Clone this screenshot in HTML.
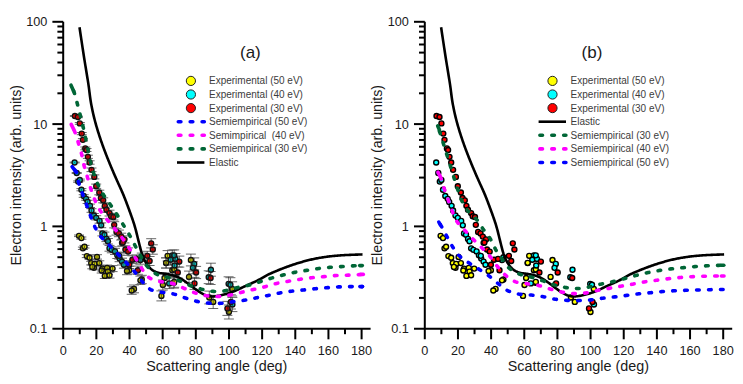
<!DOCTYPE html>
<html><head><meta charset="utf-8"><style>
html,body{margin:0;padding:0;background:#fff;width:743px;height:384px;overflow:hidden}
svg{display:block}
text{font-family:"Liberation Sans",sans-serif;fill:#1a1a1a}
.tk{font-size:12.7px}
.ax{font-size:14px}
.lg{font-size:10px;fill:#3c3c3c}
.pl{font-size:17px}
</style></head><body>
<svg width="743" height="384" viewBox="0 0 743 384">
<line x1="63.2" y1="21.8" x2="63.2" y2="339.3" stroke="#000" stroke-width="2"/>
<line x1="52.4" y1="328.7" x2="370.6" y2="328.7" stroke="#000" stroke-width="2"/>
<line x1="52.4" y1="21.80" x2="63.2" y2="21.80" stroke="#000" stroke-width="2"/>
<line x1="52.4" y1="124.10" x2="63.2" y2="124.10" stroke="#000" stroke-width="2"/>
<line x1="52.4" y1="226.40" x2="63.2" y2="226.40" stroke="#000" stroke-width="2"/>
<line x1="57.4" y1="297.90" x2="63.2" y2="297.90" stroke="#000" stroke-width="2"/>
<line x1="57.4" y1="279.89" x2="63.2" y2="279.89" stroke="#000" stroke-width="2"/>
<line x1="57.4" y1="267.11" x2="63.2" y2="267.11" stroke="#000" stroke-width="2"/>
<line x1="57.4" y1="257.20" x2="63.2" y2="257.20" stroke="#000" stroke-width="2"/>
<line x1="57.4" y1="249.10" x2="63.2" y2="249.10" stroke="#000" stroke-width="2"/>
<line x1="57.4" y1="242.25" x2="63.2" y2="242.25" stroke="#000" stroke-width="2"/>
<line x1="57.4" y1="236.31" x2="63.2" y2="236.31" stroke="#000" stroke-width="2"/>
<line x1="57.4" y1="231.08" x2="63.2" y2="231.08" stroke="#000" stroke-width="2"/>
<line x1="57.4" y1="195.60" x2="63.2" y2="195.60" stroke="#000" stroke-width="2"/>
<line x1="57.4" y1="177.59" x2="63.2" y2="177.59" stroke="#000" stroke-width="2"/>
<line x1="57.4" y1="164.81" x2="63.2" y2="164.81" stroke="#000" stroke-width="2"/>
<line x1="57.4" y1="154.90" x2="63.2" y2="154.90" stroke="#000" stroke-width="2"/>
<line x1="57.4" y1="146.80" x2="63.2" y2="146.80" stroke="#000" stroke-width="2"/>
<line x1="57.4" y1="139.95" x2="63.2" y2="139.95" stroke="#000" stroke-width="2"/>
<line x1="57.4" y1="134.01" x2="63.2" y2="134.01" stroke="#000" stroke-width="2"/>
<line x1="57.4" y1="128.78" x2="63.2" y2="128.78" stroke="#000" stroke-width="2"/>
<line x1="57.4" y1="93.30" x2="63.2" y2="93.30" stroke="#000" stroke-width="2"/>
<line x1="57.4" y1="75.29" x2="63.2" y2="75.29" stroke="#000" stroke-width="2"/>
<line x1="57.4" y1="62.51" x2="63.2" y2="62.51" stroke="#000" stroke-width="2"/>
<line x1="57.4" y1="52.60" x2="63.2" y2="52.60" stroke="#000" stroke-width="2"/>
<line x1="57.4" y1="44.50" x2="63.2" y2="44.50" stroke="#000" stroke-width="2"/>
<line x1="57.4" y1="37.65" x2="63.2" y2="37.65" stroke="#000" stroke-width="2"/>
<line x1="57.4" y1="31.71" x2="63.2" y2="31.71" stroke="#000" stroke-width="2"/>
<line x1="57.4" y1="26.48" x2="63.2" y2="26.48" stroke="#000" stroke-width="2"/>
<line x1="79.78" y1="328.7" x2="79.78" y2="334.2" stroke="#000" stroke-width="2"/>
<line x1="96.36" y1="328.7" x2="96.36" y2="339.3" stroke="#000" stroke-width="2"/>
<line x1="112.93" y1="328.7" x2="112.93" y2="334.2" stroke="#000" stroke-width="2"/>
<line x1="129.51" y1="328.7" x2="129.51" y2="339.3" stroke="#000" stroke-width="2"/>
<line x1="146.09" y1="328.7" x2="146.09" y2="334.2" stroke="#000" stroke-width="2"/>
<line x1="162.67" y1="328.7" x2="162.67" y2="339.3" stroke="#000" stroke-width="2"/>
<line x1="179.24" y1="328.7" x2="179.24" y2="334.2" stroke="#000" stroke-width="2"/>
<line x1="195.82" y1="328.7" x2="195.82" y2="339.3" stroke="#000" stroke-width="2"/>
<line x1="212.40" y1="328.7" x2="212.40" y2="334.2" stroke="#000" stroke-width="2"/>
<line x1="228.98" y1="328.7" x2="228.98" y2="339.3" stroke="#000" stroke-width="2"/>
<line x1="245.56" y1="328.7" x2="245.56" y2="334.2" stroke="#000" stroke-width="2"/>
<line x1="262.13" y1="328.7" x2="262.13" y2="339.3" stroke="#000" stroke-width="2"/>
<line x1="278.71" y1="328.7" x2="278.71" y2="334.2" stroke="#000" stroke-width="2"/>
<line x1="295.29" y1="328.7" x2="295.29" y2="339.3" stroke="#000" stroke-width="2"/>
<line x1="311.87" y1="328.7" x2="311.87" y2="334.2" stroke="#000" stroke-width="2"/>
<line x1="328.44" y1="328.7" x2="328.44" y2="339.3" stroke="#000" stroke-width="2"/>
<line x1="345.02" y1="328.7" x2="345.02" y2="334.2" stroke="#000" stroke-width="2"/>
<line x1="361.60" y1="328.7" x2="361.60" y2="339.3" stroke="#000" stroke-width="2"/>
<text x="47.3" y="26.3" text-anchor="end" class="tk">100</text>
<text x="47.3" y="128.6" text-anchor="end" class="tk">10</text>
<text x="47.3" y="230.9" text-anchor="end" class="tk">1</text>
<text x="47.3" y="333.2" text-anchor="end" class="tk">0.1</text>
<text x="63.2" y="355.4" text-anchor="middle" class="tk">0</text>
<text x="96.4" y="355.4" text-anchor="middle" class="tk">20</text>
<text x="129.5" y="355.4" text-anchor="middle" class="tk">40</text>
<text x="162.7" y="355.4" text-anchor="middle" class="tk">60</text>
<text x="195.8" y="355.4" text-anchor="middle" class="tk">80</text>
<text x="229.0" y="355.4" text-anchor="middle" class="tk">100</text>
<text x="262.1" y="355.4" text-anchor="middle" class="tk">120</text>
<text x="295.3" y="355.4" text-anchor="middle" class="tk">140</text>
<text x="328.4" y="355.4" text-anchor="middle" class="tk">160</text>
<text x="361.6" y="355.4" text-anchor="middle" class="tk">180</text>
<text x="146.2" y="370.6" class="ax" textLength="141.2" lengthAdjust="spacingAndGlyphs">Scattering angle (deg)</text>
<text transform="translate(20.6,265.4) rotate(-90)" x="0" y="0" class="ax" textLength="180.4" lengthAdjust="spacingAndGlyphs">Electron intensity (arb. units)</text>
<line x1="424.8" y1="21.8" x2="424.8" y2="339.3" stroke="#000" stroke-width="2"/>
<line x1="414.0" y1="328.7" x2="732.2" y2="328.7" stroke="#000" stroke-width="2"/>
<line x1="414.0" y1="21.80" x2="424.8" y2="21.80" stroke="#000" stroke-width="2"/>
<line x1="414.0" y1="124.10" x2="424.8" y2="124.10" stroke="#000" stroke-width="2"/>
<line x1="414.0" y1="226.40" x2="424.8" y2="226.40" stroke="#000" stroke-width="2"/>
<line x1="419.0" y1="297.90" x2="424.8" y2="297.90" stroke="#000" stroke-width="2"/>
<line x1="419.0" y1="279.89" x2="424.8" y2="279.89" stroke="#000" stroke-width="2"/>
<line x1="419.0" y1="267.11" x2="424.8" y2="267.11" stroke="#000" stroke-width="2"/>
<line x1="419.0" y1="257.20" x2="424.8" y2="257.20" stroke="#000" stroke-width="2"/>
<line x1="419.0" y1="249.10" x2="424.8" y2="249.10" stroke="#000" stroke-width="2"/>
<line x1="419.0" y1="242.25" x2="424.8" y2="242.25" stroke="#000" stroke-width="2"/>
<line x1="419.0" y1="236.31" x2="424.8" y2="236.31" stroke="#000" stroke-width="2"/>
<line x1="419.0" y1="231.08" x2="424.8" y2="231.08" stroke="#000" stroke-width="2"/>
<line x1="419.0" y1="195.60" x2="424.8" y2="195.60" stroke="#000" stroke-width="2"/>
<line x1="419.0" y1="177.59" x2="424.8" y2="177.59" stroke="#000" stroke-width="2"/>
<line x1="419.0" y1="164.81" x2="424.8" y2="164.81" stroke="#000" stroke-width="2"/>
<line x1="419.0" y1="154.90" x2="424.8" y2="154.90" stroke="#000" stroke-width="2"/>
<line x1="419.0" y1="146.80" x2="424.8" y2="146.80" stroke="#000" stroke-width="2"/>
<line x1="419.0" y1="139.95" x2="424.8" y2="139.95" stroke="#000" stroke-width="2"/>
<line x1="419.0" y1="134.01" x2="424.8" y2="134.01" stroke="#000" stroke-width="2"/>
<line x1="419.0" y1="128.78" x2="424.8" y2="128.78" stroke="#000" stroke-width="2"/>
<line x1="419.0" y1="93.30" x2="424.8" y2="93.30" stroke="#000" stroke-width="2"/>
<line x1="419.0" y1="75.29" x2="424.8" y2="75.29" stroke="#000" stroke-width="2"/>
<line x1="419.0" y1="62.51" x2="424.8" y2="62.51" stroke="#000" stroke-width="2"/>
<line x1="419.0" y1="52.60" x2="424.8" y2="52.60" stroke="#000" stroke-width="2"/>
<line x1="419.0" y1="44.50" x2="424.8" y2="44.50" stroke="#000" stroke-width="2"/>
<line x1="419.0" y1="37.65" x2="424.8" y2="37.65" stroke="#000" stroke-width="2"/>
<line x1="419.0" y1="31.71" x2="424.8" y2="31.71" stroke="#000" stroke-width="2"/>
<line x1="419.0" y1="26.48" x2="424.8" y2="26.48" stroke="#000" stroke-width="2"/>
<line x1="441.38" y1="328.7" x2="441.38" y2="334.2" stroke="#000" stroke-width="2"/>
<line x1="457.96" y1="328.7" x2="457.96" y2="339.3" stroke="#000" stroke-width="2"/>
<line x1="474.53" y1="328.7" x2="474.53" y2="334.2" stroke="#000" stroke-width="2"/>
<line x1="491.11" y1="328.7" x2="491.11" y2="339.3" stroke="#000" stroke-width="2"/>
<line x1="507.69" y1="328.7" x2="507.69" y2="334.2" stroke="#000" stroke-width="2"/>
<line x1="524.27" y1="328.7" x2="524.27" y2="339.3" stroke="#000" stroke-width="2"/>
<line x1="540.84" y1="328.7" x2="540.84" y2="334.2" stroke="#000" stroke-width="2"/>
<line x1="557.42" y1="328.7" x2="557.42" y2="339.3" stroke="#000" stroke-width="2"/>
<line x1="574.00" y1="328.7" x2="574.00" y2="334.2" stroke="#000" stroke-width="2"/>
<line x1="590.58" y1="328.7" x2="590.58" y2="339.3" stroke="#000" stroke-width="2"/>
<line x1="607.16" y1="328.7" x2="607.16" y2="334.2" stroke="#000" stroke-width="2"/>
<line x1="623.73" y1="328.7" x2="623.73" y2="339.3" stroke="#000" stroke-width="2"/>
<line x1="640.31" y1="328.7" x2="640.31" y2="334.2" stroke="#000" stroke-width="2"/>
<line x1="656.89" y1="328.7" x2="656.89" y2="339.3" stroke="#000" stroke-width="2"/>
<line x1="673.47" y1="328.7" x2="673.47" y2="334.2" stroke="#000" stroke-width="2"/>
<line x1="690.04" y1="328.7" x2="690.04" y2="339.3" stroke="#000" stroke-width="2"/>
<line x1="706.62" y1="328.7" x2="706.62" y2="334.2" stroke="#000" stroke-width="2"/>
<line x1="723.20" y1="328.7" x2="723.20" y2="339.3" stroke="#000" stroke-width="2"/>
<text x="408.90000000000003" y="26.3" text-anchor="end" class="tk">100</text>
<text x="408.90000000000003" y="128.6" text-anchor="end" class="tk">10</text>
<text x="408.90000000000003" y="230.9" text-anchor="end" class="tk">1</text>
<text x="408.90000000000003" y="333.2" text-anchor="end" class="tk">0.1</text>
<text x="424.8" y="355.4" text-anchor="middle" class="tk">0</text>
<text x="458.0" y="355.4" text-anchor="middle" class="tk">20</text>
<text x="491.1" y="355.4" text-anchor="middle" class="tk">40</text>
<text x="524.3" y="355.4" text-anchor="middle" class="tk">60</text>
<text x="557.4" y="355.4" text-anchor="middle" class="tk">80</text>
<text x="590.6" y="355.4" text-anchor="middle" class="tk">100</text>
<text x="623.7" y="355.4" text-anchor="middle" class="tk">120</text>
<text x="656.9" y="355.4" text-anchor="middle" class="tk">140</text>
<text x="690.0" y="355.4" text-anchor="middle" class="tk">160</text>
<text x="723.2" y="355.4" text-anchor="middle" class="tk">180</text>
<text x="507.8" y="370.6" class="ax" textLength="141.2" lengthAdjust="spacingAndGlyphs">Scattering angle (deg)</text>
<text transform="translate(382.20000000000005,265.4) rotate(-90)" x="0" y="0" class="ax" textLength="180.4" lengthAdjust="spacingAndGlyphs">Electron intensity (arb. units)</text>
<text x="240" y="57.5" class="pl">(a)</text>
<text x="581.6" y="57.5" class="pl">(b)</text>
<circle cx="190.9" cy="80.9" r="4.6" fill="#ffff00" stroke="#222" stroke-width="1"/>
<text x="209" y="84.4" class="lg">Experimental (50 eV)</text>
<circle cx="190.9" cy="94.5" r="4.6" fill="#00ffff" stroke="#222" stroke-width="1"/>
<text x="209" y="98.0" class="lg">Experimental (40 eV)</text>
<circle cx="190.9" cy="108.1" r="4.6" fill="#ff0000" stroke="#222" stroke-width="1"/>
<text x="209" y="111.6" class="lg">Experimental (30 eV)</text>
<path d="M178.3,121.7H204.3" stroke="#0000ff" stroke-width="3.6" stroke-dasharray="2.6 9.3" stroke-linecap="round"/>
<text x="209" y="125.2" class="lg">Semiempirical (50 eV)</text>
<path d="M178.3,135.3H204.3" stroke="#ff00ff" stroke-width="3.6" stroke-dasharray="2.6 9.3" stroke-linecap="round"/>
<text x="209" y="138.8" class="lg">Semimpirical&#160; (40 eV)</text>
<path d="M178.3,148.9H204.3" stroke="#006636" stroke-width="3.6" stroke-dasharray="2.6 9.3" stroke-linecap="round"/>
<text x="209" y="152.4" class="lg">Semiempirical (30 eV)</text>
<line x1="177" y1="162.5" x2="204.4" y2="162.5" stroke="#000" stroke-width="2.6"/>
<text x="209" y="166.0" class="lg">Elastic</text>
<circle cx="552.5" cy="80.9" r="4.6" fill="#ffff00" stroke="#222" stroke-width="1"/>
<text x="570.6" y="84.4" class="lg">Experimental (50 eV)</text>
<circle cx="552.5" cy="94.5" r="4.6" fill="#00ffff" stroke="#222" stroke-width="1"/>
<text x="570.6" y="98.0" class="lg">Experimental (40 eV)</text>
<circle cx="552.5" cy="108.1" r="4.6" fill="#ff0000" stroke="#222" stroke-width="1"/>
<text x="570.6" y="111.6" class="lg">Experimental (30 eV)</text>
<line x1="538.6" y1="121.7" x2="566.0" y2="121.7" stroke="#000" stroke-width="2.6"/>
<text x="570.6" y="125.2" class="lg">Elastic</text>
<path d="M539.9000000000001,135.3H565.9000000000001" stroke="#006636" stroke-width="3.6" stroke-dasharray="2.6 9.3" stroke-linecap="round"/>
<text x="570.6" y="138.8" class="lg">Semiempirical (30 eV)</text>
<path d="M539.9000000000001,148.9H565.9000000000001" stroke="#ff00ff" stroke-width="3.6" stroke-dasharray="2.6 9.3" stroke-linecap="round"/>
<text x="570.6" y="152.4" class="lg">Semiempirical (40 eV)</text>
<path d="M539.9000000000001,162.5H565.9000000000001" stroke="#0000ff" stroke-width="3.6" stroke-dasharray="2.6 9.3" stroke-linecap="round"/>
<text x="570.6" y="166.0" class="lg">Semiempirical (50 eV)</text>
<g stroke="#444" stroke-width="1" fill="none" opacity="0.8"><path d="M74.0,235.0H84.0M74.0,236.6H84.0" /><path d="M76.4,237.0H86.4M76.4,239.2H86.4" /><path d="M77.9,247.1H87.9M77.9,249.5H87.9" /><path d="M79.5,245.4H89.5M79.5,248.0H89.5" /><path d="M81.8,254.6H91.8M81.8,257.6H91.8" /><path d="M84.6,256.0H94.6M84.6,259.4H94.6" /><path d="M86.2,261.3H96.2M86.2,264.9H96.2" /><path d="M89.6,261.9H99.6M89.6,265.9H99.6" /><path d="M92.0,254.7H102.0M92.0,259.1H102.0" /><path d="M94.3,260.8H104.3M94.3,265.4H104.3" /><path d="M88.9,265.8H98.9M88.9,269.8H98.9" /><path d="M97.4,266.1H107.4M97.4,271.1H107.4" /><path d="M102.1,265.1H112.1M102.1,270.5H112.1" /><path d="M107.6,265.6H117.6M107.6,271.6H117.6" /><path d="M87.3,265.0H97.3M87.3,268.8H97.3" /><path d="M96.7,268.0H106.7M96.7,273.0H106.7" /><path d="M102.9,268.8H112.9M102.9,274.4H112.9" /><path d="M99.8,273.3H109.8M99.8,278.5H109.8" /><path d="M104.5,272.3H114.5M104.5,278.1H114.5" /><path d="M124.3,266.4H134.3M124.3,274.0H134.3" /><path d="M122.0,267.3H132.0M122.0,274.7H132.0" /><path d="M136.8,275.3H146.8M136.8,283.7H146.8" /><path d="M135.4,276.1H145.4M135.4,284.5H145.4" /><path d="M129.0,285.0H139.0M129.0,292.8H139.0" /><path d="M126.7,286.7H136.7M126.7,294.3H136.7" /><path d="M156.4,290.9H166.4M156.4,300.9H166.4" /><path d="M159.5,272.9H169.5M159.5,283.1H169.5" /><path d="M157.9,280.0H167.9M157.9,290.0H167.9" /><path d="M167.3,264.9H177.3M167.3,275.5H177.3" /><path d="M161.1,258.0H171.1M161.1,268.2H171.1" /><path d="M162.6,250.6H172.6M162.6,261.0H172.6" /><path d="M161.1,257.7H171.1M161.1,267.9H171.1" /><path d="M168.9,277.3H178.9M168.9,288.1H178.9" /><path d="M185.9,254.1H195.9M185.9,265.9H195.9" /><path d="M184.0,271.1H194.0M184.0,282.7H194.0" /><path d="M169.2,264.0H179.2M169.2,274.8H179.2" /><path d="M169.2,276.5H179.2M169.2,287.3H179.2" /><path d="M204.3,291.1H214.3M204.3,303.9H214.3" /><path d="M208.2,295.3H218.2M208.2,308.5H218.2" /><path d="M223.9,305.0H233.9M223.9,319.0H233.9" /><path d="M227.1,281.8H237.1M227.1,296.0H237.1" /><path d="M69.6,162.1H79.6M69.6,162.9H79.6" /><path d="M71.7,172.5H81.7M71.7,173.5H81.7" /><path d="M73.2,180.9H83.2M73.2,182.3H83.2" /><path d="M74.8,179.1H84.8M74.8,180.9H84.8" /><path d="M76.4,188.6H86.4M76.4,190.8H86.4" /><path d="M78.7,194.7H88.7M78.7,197.3H88.7" /><path d="M81.1,197.3H91.1M81.1,200.2H91.1" /><path d="M82.6,200.3H92.6M82.6,203.5H92.6" /><path d="M85.0,204.1H95.0M85.0,207.5H95.0" /><path d="M86.5,208.7H96.5M86.5,212.3H96.5" /><path d="M88.9,213.5H98.9M88.9,217.5H98.9" /><path d="M91.2,215.7H101.2M91.2,219.9H101.2" /><path d="M94.6,218.6H104.6M94.6,223.2H104.6" /><path d="M96.2,222.9H106.2M96.2,227.7H106.2" /><path d="M97.4,230.9H107.4M97.4,235.9H107.4" /><path d="M99.4,232.1H109.4M99.4,237.3H109.4" /><path d="M101.4,236.2H111.4M101.4,241.6H111.4" /><path d="M102.9,238.5H112.9M102.9,244.0H112.9" /><path d="M104.5,245.4H114.5M104.5,251.2H114.5" /><path d="M106.8,246.8H116.8M106.8,252.8H116.8" /><path d="M110.0,248.3H120.0M110.0,254.5H120.0" /><path d="M112.3,252.1H122.3M112.3,258.5H122.3" /><path d="M114.6,255.1H124.6M114.6,261.7H124.6" /><path d="M117.0,258.2H127.0M117.0,265.0H127.0" /><path d="M114.2,252.5H124.2M114.2,259.1H124.2" /><path d="M118.9,261.2H128.9M118.9,268.2H128.9" /><path d="M136.8,253.1H146.8M136.8,261.5H146.8" /><path d="M135.4,255.8H145.4M135.4,264.2H145.4" /><path d="M167.3,250.0H177.3M167.3,260.6H177.3" /><path d="M165.7,254.4H175.7M165.7,265.0H175.7" /><path d="M170.4,253.5H180.4M170.4,264.3H180.4" /><path d="M169.2,249.9H179.2M169.2,260.7H179.2" /><path d="M169.6,260.1H179.6M169.6,270.9H179.6" /><path d="M164.2,278.2H174.2M164.2,288.6H174.2" /><path d="M189.2,257.9H199.2M189.2,269.9H199.2" /><path d="M187.9,261.8H197.9M187.9,273.8H197.9" /><path d="M205.9,263.2H215.9M205.9,276.2H215.9" /><path d="M203.7,270.8H213.7M203.7,283.6H213.7" /><path d="M223.6,276.8H233.6M223.6,290.8H233.6" /><path d="M225.4,277.7H235.4M225.4,291.7H235.4" /><path d="M227.4,297.4H237.4M227.4,311.6H237.4" /><path d="M69.9,115.6H79.9M69.9,116.4H79.9" /><path d="M72.9,116.3H82.9M72.9,117.7H82.9" /><path d="M74.8,122.5H84.8M74.8,124.3H84.8" /><path d="M76.7,132.5H86.7M76.7,134.7H86.7" /><path d="M77.9,138.6H87.9M77.9,141.0H87.9" /><path d="M80.3,147.0H90.3M80.3,149.8H90.3" /><path d="M81.5,148.5H91.5M81.5,151.5H91.5" /><path d="M82.9,155.2H92.9M82.9,158.4H92.9" /><path d="M84.6,160.8H94.6M84.6,164.2H94.6" /><path d="M86.5,168.0H96.5M86.5,171.6H96.5" /><path d="M89.3,174.9H99.3M89.3,178.9H99.3" /><path d="M91.2,184.1H101.2M91.2,188.4H101.2" /><path d="M94.3,190.2H104.3M94.3,194.8H104.3" /><path d="M95.9,195.6H105.9M95.9,200.4H105.9" /><path d="M98.2,197.8H108.2M98.2,202.8H108.2" /><path d="M99.8,203.2H109.8M99.8,208.4H109.8" /><path d="M101.4,207.0H111.4M101.4,212.4H111.4" /><path d="M104.5,210.2H114.5M104.5,216.0H114.5" /><path d="M106.1,213.3H116.1M106.1,219.2H116.1" /><path d="M108.4,214.0H118.4M108.4,220.0H118.4" /><path d="M109.2,221.7H119.2M109.2,227.9H119.2" /><path d="M111.5,228.7H121.5M111.5,235.1H121.5" /><path d="M113.9,230.1H123.9M113.9,236.7H123.9" /><path d="M116.2,233.2H126.2M116.2,240.0H126.2" /><path d="M117.0,239.4H127.0M117.0,246.2H127.0" /><path d="M119.4,235.9H129.4M119.4,242.9H129.4" /><path d="M117.8,239.0H127.8M117.8,246.0H127.8" /><path d="M120.4,245.9H130.4M120.4,253.1H130.4" /><path d="M123.1,247.9H133.1M123.1,255.3H133.1" /><path d="M127.4,255.8H137.4M127.4,263.6H137.4" /><path d="M131.4,254.9H141.4M131.4,262.9H141.4" /><path d="M124.3,260.9H134.3M124.3,268.5H134.3" /><path d="M132.9,266.1H142.9M132.9,274.3H142.9" /><path d="M146.2,238.7H156.2M146.2,247.9H156.2" /><path d="M147.8,244.8H157.8M147.8,254.2H157.8" /><path d="M142.3,251.3H152.3M142.3,260.3H152.3" /><path d="M144.6,256.5H154.6M144.6,265.5H154.6" /><path d="M174.3,256.1H184.3M174.3,267.1H184.3" /><path d="M172.8,267.0H182.8M172.8,278.0H182.8" /><path d="M191.1,266.4H201.1M191.1,278.6H201.1" /><path d="M205.6,271.5H215.6M205.6,284.5H215.6" /><path d="M189.5,277.4H199.5M189.5,289.4H199.5" /><path d="M225.9,294.8H235.9M225.9,309.0H235.9" /><path d="M222.4,301.4H232.4M222.4,315.4H232.4" /></g>
<circle cx="79.0" cy="235.8" r="2.5" fill="#d4d400" stroke="#111" stroke-width="1.35"/>
<circle cx="81.4" cy="238.1" r="2.5" fill="#d4d400" stroke="#111" stroke-width="1.35"/>
<circle cx="82.9" cy="248.3" r="2.5" fill="#d4d400" stroke="#111" stroke-width="1.35"/>
<circle cx="84.5" cy="246.7" r="2.5" fill="#d4d400" stroke="#111" stroke-width="1.35"/>
<circle cx="86.8" cy="256.1" r="2.5" fill="#d4d400" stroke="#111" stroke-width="1.35"/>
<circle cx="89.6" cy="257.7" r="2.5" fill="#d4d400" stroke="#111" stroke-width="1.35"/>
<circle cx="91.2" cy="263.1" r="2.5" fill="#d4d400" stroke="#111" stroke-width="1.35"/>
<circle cx="94.6" cy="263.9" r="2.5" fill="#d4d400" stroke="#111" stroke-width="1.35"/>
<circle cx="97.0" cy="256.9" r="2.5" fill="#d4d400" stroke="#111" stroke-width="1.35"/>
<circle cx="99.3" cy="263.1" r="2.5" fill="#d4d400" stroke="#111" stroke-width="1.35"/>
<circle cx="93.9" cy="267.8" r="2.5" fill="#d4d400" stroke="#111" stroke-width="1.35"/>
<circle cx="102.4" cy="268.6" r="2.5" fill="#d4d400" stroke="#111" stroke-width="1.35"/>
<circle cx="107.1" cy="267.8" r="2.5" fill="#d4d400" stroke="#111" stroke-width="1.35"/>
<circle cx="112.6" cy="268.6" r="2.5" fill="#d4d400" stroke="#111" stroke-width="1.35"/>
<circle cx="92.3" cy="266.9" r="2.5" fill="#d4d400" stroke="#111" stroke-width="1.35"/>
<circle cx="101.7" cy="270.5" r="2.5" fill="#d4d400" stroke="#111" stroke-width="1.35"/>
<circle cx="107.9" cy="271.6" r="2.5" fill="#d4d400" stroke="#111" stroke-width="1.35"/>
<circle cx="104.8" cy="275.9" r="2.5" fill="#d4d400" stroke="#111" stroke-width="1.35"/>
<circle cx="109.5" cy="275.2" r="2.5" fill="#d4d400" stroke="#111" stroke-width="1.35"/>
<circle cx="129.3" cy="270.2" r="2.5" fill="#d4d400" stroke="#111" stroke-width="1.35"/>
<circle cx="127.0" cy="271.0" r="2.5" fill="#d4d400" stroke="#111" stroke-width="1.35"/>
<circle cx="141.8" cy="279.5" r="2.5" fill="#d4d400" stroke="#111" stroke-width="1.35"/>
<circle cx="140.4" cy="280.3" r="2.5" fill="#d4d400" stroke="#111" stroke-width="1.35"/>
<circle cx="134.0" cy="288.9" r="2.5" fill="#d4d400" stroke="#111" stroke-width="1.35"/>
<circle cx="131.7" cy="290.5" r="2.5" fill="#d4d400" stroke="#111" stroke-width="1.35"/>
<circle cx="161.4" cy="295.9" r="2.5" fill="#d4d400" stroke="#111" stroke-width="1.35"/>
<circle cx="164.5" cy="278.0" r="2.5" fill="#d4d400" stroke="#111" stroke-width="1.35"/>
<circle cx="162.9" cy="285.0" r="2.5" fill="#d4d400" stroke="#111" stroke-width="1.35"/>
<circle cx="172.3" cy="270.2" r="2.5" fill="#d4d400" stroke="#111" stroke-width="1.35"/>
<circle cx="166.1" cy="263.1" r="2.5" fill="#d4d400" stroke="#111" stroke-width="1.35"/>
<circle cx="167.6" cy="255.8" r="2.5" fill="#d4d400" stroke="#111" stroke-width="1.35"/>
<circle cx="166.1" cy="262.8" r="2.5" fill="#d4d400" stroke="#111" stroke-width="1.35"/>
<circle cx="173.9" cy="282.7" r="2.5" fill="#d4d400" stroke="#111" stroke-width="1.35"/>
<circle cx="190.9" cy="260.0" r="2.5" fill="#d4d400" stroke="#111" stroke-width="1.35"/>
<circle cx="189.0" cy="276.9" r="2.5" fill="#d4d400" stroke="#111" stroke-width="1.35"/>
<circle cx="174.2" cy="269.4" r="2.5" fill="#d4d400" stroke="#111" stroke-width="1.35"/>
<circle cx="174.2" cy="281.9" r="2.5" fill="#d4d400" stroke="#111" stroke-width="1.35"/>
<circle cx="209.3" cy="297.5" r="2.5" fill="#d4d400" stroke="#111" stroke-width="1.35"/>
<circle cx="213.2" cy="301.9" r="2.5" fill="#d4d400" stroke="#111" stroke-width="1.35"/>
<circle cx="228.9" cy="312.0" r="2.5" fill="#d4d400" stroke="#111" stroke-width="1.35"/>
<circle cx="232.1" cy="288.9" r="2.5" fill="#d4d400" stroke="#111" stroke-width="1.35"/>
<circle cx="74.6" cy="162.5" r="2.5" fill="#00c4c4" stroke="#111" stroke-width="1.35"/>
<circle cx="76.7" cy="173.0" r="2.5" fill="#00c4c4" stroke="#111" stroke-width="1.35"/>
<circle cx="78.2" cy="181.6" r="2.5" fill="#00c4c4" stroke="#111" stroke-width="1.35"/>
<circle cx="79.8" cy="180.0" r="2.5" fill="#00c4c4" stroke="#111" stroke-width="1.35"/>
<circle cx="81.4" cy="189.7" r="2.5" fill="#00c4c4" stroke="#111" stroke-width="1.35"/>
<circle cx="83.7" cy="196.0" r="2.5" fill="#00c4c4" stroke="#111" stroke-width="1.35"/>
<circle cx="86.1" cy="198.8" r="2.5" fill="#00c4c4" stroke="#111" stroke-width="1.35"/>
<circle cx="87.6" cy="201.9" r="2.5" fill="#00c4c4" stroke="#111" stroke-width="1.35"/>
<circle cx="90.0" cy="205.8" r="2.5" fill="#00c4c4" stroke="#111" stroke-width="1.35"/>
<circle cx="91.5" cy="210.5" r="2.5" fill="#00c4c4" stroke="#111" stroke-width="1.35"/>
<circle cx="93.9" cy="215.5" r="2.5" fill="#00c4c4" stroke="#111" stroke-width="1.35"/>
<circle cx="96.2" cy="217.8" r="2.5" fill="#00c4c4" stroke="#111" stroke-width="1.35"/>
<circle cx="99.6" cy="220.9" r="2.5" fill="#00c4c4" stroke="#111" stroke-width="1.35"/>
<circle cx="101.2" cy="225.3" r="2.5" fill="#00c4c4" stroke="#111" stroke-width="1.35"/>
<circle cx="102.4" cy="233.4" r="2.5" fill="#00c4c4" stroke="#111" stroke-width="1.35"/>
<circle cx="104.4" cy="234.7" r="2.5" fill="#00c4c4" stroke="#111" stroke-width="1.35"/>
<circle cx="106.4" cy="238.9" r="2.5" fill="#00c4c4" stroke="#111" stroke-width="1.35"/>
<circle cx="107.9" cy="241.2" r="2.5" fill="#00c4c4" stroke="#111" stroke-width="1.35"/>
<circle cx="109.5" cy="248.3" r="2.5" fill="#00c4c4" stroke="#111" stroke-width="1.35"/>
<circle cx="111.8" cy="249.8" r="2.5" fill="#00c4c4" stroke="#111" stroke-width="1.35"/>
<circle cx="115.0" cy="251.4" r="2.5" fill="#00c4c4" stroke="#111" stroke-width="1.35"/>
<circle cx="117.3" cy="255.3" r="2.5" fill="#00c4c4" stroke="#111" stroke-width="1.35"/>
<circle cx="119.6" cy="258.4" r="2.5" fill="#00c4c4" stroke="#111" stroke-width="1.35"/>
<circle cx="122.0" cy="261.6" r="2.5" fill="#00c4c4" stroke="#111" stroke-width="1.35"/>
<circle cx="119.2" cy="255.8" r="2.5" fill="#00c4c4" stroke="#111" stroke-width="1.35"/>
<circle cx="123.9" cy="264.7" r="2.5" fill="#00c4c4" stroke="#111" stroke-width="1.35"/>
<circle cx="141.8" cy="257.3" r="2.5" fill="#00c4c4" stroke="#111" stroke-width="1.35"/>
<circle cx="140.4" cy="260.0" r="2.5" fill="#00c4c4" stroke="#111" stroke-width="1.35"/>
<circle cx="172.3" cy="255.3" r="2.5" fill="#00c4c4" stroke="#111" stroke-width="1.35"/>
<circle cx="170.7" cy="259.7" r="2.5" fill="#00c4c4" stroke="#111" stroke-width="1.35"/>
<circle cx="175.4" cy="258.9" r="2.5" fill="#00c4c4" stroke="#111" stroke-width="1.35"/>
<circle cx="174.2" cy="255.3" r="2.5" fill="#00c4c4" stroke="#111" stroke-width="1.35"/>
<circle cx="174.6" cy="265.5" r="2.5" fill="#00c4c4" stroke="#111" stroke-width="1.35"/>
<circle cx="169.2" cy="283.4" r="2.5" fill="#00c4c4" stroke="#111" stroke-width="1.35"/>
<circle cx="194.2" cy="263.9" r="2.5" fill="#00c4c4" stroke="#111" stroke-width="1.35"/>
<circle cx="192.9" cy="267.8" r="2.5" fill="#00c4c4" stroke="#111" stroke-width="1.35"/>
<circle cx="210.9" cy="269.7" r="2.5" fill="#00c4c4" stroke="#111" stroke-width="1.35"/>
<circle cx="208.7" cy="277.2" r="2.5" fill="#00c4c4" stroke="#111" stroke-width="1.35"/>
<circle cx="228.6" cy="283.8" r="2.5" fill="#00c4c4" stroke="#111" stroke-width="1.35"/>
<circle cx="230.4" cy="284.7" r="2.5" fill="#00c4c4" stroke="#111" stroke-width="1.35"/>
<circle cx="232.4" cy="304.5" r="2.5" fill="#00c4c4" stroke="#111" stroke-width="1.35"/>
<circle cx="74.9" cy="116.0" r="2.5" fill="#e60000" stroke="#111" stroke-width="1.35"/>
<circle cx="77.9" cy="117.0" r="2.5" fill="#e60000" stroke="#111" stroke-width="1.35"/>
<circle cx="79.8" cy="123.4" r="2.5" fill="#e60000" stroke="#111" stroke-width="1.35"/>
<circle cx="81.7" cy="133.6" r="2.5" fill="#e60000" stroke="#111" stroke-width="1.35"/>
<circle cx="82.9" cy="139.8" r="2.5" fill="#e60000" stroke="#111" stroke-width="1.35"/>
<circle cx="85.3" cy="148.4" r="2.5" fill="#e60000" stroke="#111" stroke-width="1.35"/>
<circle cx="86.5" cy="150.0" r="2.5" fill="#e60000" stroke="#111" stroke-width="1.35"/>
<circle cx="87.9" cy="156.8" r="2.5" fill="#e60000" stroke="#111" stroke-width="1.35"/>
<circle cx="89.6" cy="162.5" r="2.5" fill="#e60000" stroke="#111" stroke-width="1.35"/>
<circle cx="91.5" cy="169.8" r="2.5" fill="#e60000" stroke="#111" stroke-width="1.35"/>
<circle cx="94.3" cy="176.9" r="2.5" fill="#e60000" stroke="#111" stroke-width="1.35"/>
<circle cx="96.2" cy="186.2" r="2.5" fill="#e60000" stroke="#111" stroke-width="1.35"/>
<circle cx="99.3" cy="192.5" r="2.5" fill="#e60000" stroke="#111" stroke-width="1.35"/>
<circle cx="100.9" cy="198.0" r="2.5" fill="#e60000" stroke="#111" stroke-width="1.35"/>
<circle cx="103.2" cy="200.3" r="2.5" fill="#e60000" stroke="#111" stroke-width="1.35"/>
<circle cx="104.8" cy="205.8" r="2.5" fill="#e60000" stroke="#111" stroke-width="1.35"/>
<circle cx="106.4" cy="209.7" r="2.5" fill="#e60000" stroke="#111" stroke-width="1.35"/>
<circle cx="109.5" cy="213.1" r="2.5" fill="#e60000" stroke="#111" stroke-width="1.35"/>
<circle cx="111.1" cy="216.2" r="2.5" fill="#e60000" stroke="#111" stroke-width="1.35"/>
<circle cx="113.4" cy="217.0" r="2.5" fill="#e60000" stroke="#111" stroke-width="1.35"/>
<circle cx="114.2" cy="224.8" r="2.5" fill="#e60000" stroke="#111" stroke-width="1.35"/>
<circle cx="116.5" cy="231.9" r="2.5" fill="#e60000" stroke="#111" stroke-width="1.35"/>
<circle cx="118.9" cy="233.4" r="2.5" fill="#e60000" stroke="#111" stroke-width="1.35"/>
<circle cx="121.2" cy="236.6" r="2.5" fill="#e60000" stroke="#111" stroke-width="1.35"/>
<circle cx="122.0" cy="242.8" r="2.5" fill="#e60000" stroke="#111" stroke-width="1.35"/>
<circle cx="124.4" cy="239.4" r="2.5" fill="#e60000" stroke="#111" stroke-width="1.35"/>
<circle cx="122.8" cy="242.5" r="2.5" fill="#e60000" stroke="#111" stroke-width="1.35"/>
<circle cx="125.4" cy="249.5" r="2.5" fill="#e60000" stroke="#111" stroke-width="1.35"/>
<circle cx="128.1" cy="251.6" r="2.5" fill="#e60000" stroke="#111" stroke-width="1.35"/>
<circle cx="132.4" cy="259.7" r="2.5" fill="#e60000" stroke="#111" stroke-width="1.35"/>
<circle cx="136.4" cy="258.9" r="2.5" fill="#e60000" stroke="#111" stroke-width="1.35"/>
<circle cx="129.3" cy="264.7" r="2.5" fill="#e60000" stroke="#111" stroke-width="1.35"/>
<circle cx="137.9" cy="270.2" r="2.5" fill="#e60000" stroke="#111" stroke-width="1.35"/>
<circle cx="151.2" cy="243.3" r="2.5" fill="#e60000" stroke="#111" stroke-width="1.35"/>
<circle cx="152.8" cy="249.5" r="2.5" fill="#e60000" stroke="#111" stroke-width="1.35"/>
<circle cx="147.3" cy="255.8" r="2.5" fill="#e60000" stroke="#111" stroke-width="1.35"/>
<circle cx="149.6" cy="261.0" r="2.5" fill="#e60000" stroke="#111" stroke-width="1.35"/>
<circle cx="179.3" cy="261.6" r="2.5" fill="#e60000" stroke="#111" stroke-width="1.35"/>
<circle cx="177.8" cy="272.5" r="2.5" fill="#e60000" stroke="#111" stroke-width="1.35"/>
<circle cx="196.1" cy="272.5" r="2.5" fill="#e60000" stroke="#111" stroke-width="1.35"/>
<circle cx="210.6" cy="278.0" r="2.5" fill="#e60000" stroke="#111" stroke-width="1.35"/>
<circle cx="194.5" cy="283.4" r="2.5" fill="#e60000" stroke="#111" stroke-width="1.35"/>
<circle cx="230.9" cy="301.9" r="2.5" fill="#e60000" stroke="#111" stroke-width="1.35"/>
<circle cx="227.4" cy="308.4" r="2.5" fill="#e60000" stroke="#111" stroke-width="1.35"/>
<g stroke="#222" stroke-width="0.9" fill="none" opacity="0.75"><path d="M79.0,235.0V236.6" /><path d="M81.4,237.0V239.2" /><path d="M82.9,247.1V249.5" /><path d="M84.5,245.4V248.0" /><path d="M86.8,254.6V257.6" /><path d="M89.6,256.0V259.4" /><path d="M91.2,261.3V264.9" /><path d="M94.6,261.9V265.9" /><path d="M97.0,254.7V259.1" /><path d="M99.3,260.8V265.4" /><path d="M93.9,265.8V269.8" /><path d="M102.4,266.1V271.1" /><path d="M107.1,265.1V270.5" /><path d="M112.6,265.6V271.6" /><path d="M92.3,265.0V268.8" /><path d="M101.7,268.0V273.0" /><path d="M107.9,268.8V274.4" /><path d="M104.8,273.3V278.5" /><path d="M109.5,272.3V278.1" /><path d="M129.3,266.4V274.0" /><path d="M127.0,267.3V274.7" /><path d="M141.8,275.3V283.7" /><path d="M140.4,276.1V284.5" /><path d="M134.0,285.0V292.8" /><path d="M131.7,286.7V294.3" /><path d="M161.4,290.9V300.9" /><path d="M164.5,272.9V283.1" /><path d="M162.9,280.0V290.0" /><path d="M172.3,264.9V275.5" /><path d="M166.1,258.0V268.2" /><path d="M167.6,250.6V261.0" /><path d="M166.1,257.7V267.9" /><path d="M173.9,277.3V288.1" /><path d="M190.9,254.1V265.9" /><path d="M189.0,271.1V282.7" /><path d="M174.2,264.0V274.8" /><path d="M174.2,276.5V287.3" /><path d="M209.3,291.1V303.9" /><path d="M213.2,295.3V308.5" /><path d="M228.9,305.0V319.0" /><path d="M232.1,281.8V296.0" /><path d="M74.6,162.1V162.9" /><path d="M76.7,172.5V173.5" /><path d="M78.2,180.9V182.3" /><path d="M79.8,179.1V180.9" /><path d="M81.4,188.6V190.8" /><path d="M83.7,194.7V197.3" /><path d="M86.1,197.3V200.2" /><path d="M87.6,200.3V203.5" /><path d="M90.0,204.1V207.5" /><path d="M91.5,208.7V212.3" /><path d="M93.9,213.5V217.5" /><path d="M96.2,215.7V219.9" /><path d="M99.6,218.6V223.2" /><path d="M101.2,222.9V227.7" /><path d="M102.4,230.9V235.9" /><path d="M104.4,232.1V237.3" /><path d="M106.4,236.2V241.6" /><path d="M107.9,238.5V244.0" /><path d="M109.5,245.4V251.2" /><path d="M111.8,246.8V252.8" /><path d="M115.0,248.3V254.5" /><path d="M117.3,252.1V258.5" /><path d="M119.6,255.1V261.7" /><path d="M122.0,258.2V265.0" /><path d="M119.2,252.5V259.1" /><path d="M123.9,261.2V268.2" /><path d="M141.8,253.1V261.5" /><path d="M140.4,255.8V264.2" /><path d="M172.3,250.0V260.6" /><path d="M170.7,254.4V265.0" /><path d="M175.4,253.5V264.3" /><path d="M174.2,249.9V260.7" /><path d="M174.6,260.1V270.9" /><path d="M169.2,278.2V288.6" /><path d="M194.2,257.9V269.9" /><path d="M192.9,261.8V273.8" /><path d="M210.9,263.2V276.2" /><path d="M208.7,270.8V283.6" /><path d="M228.6,276.8V290.8" /><path d="M230.4,277.7V291.7" /><path d="M232.4,297.4V311.6" /><path d="M74.9,115.6V116.4" /><path d="M77.9,116.3V117.7" /><path d="M79.8,122.5V124.3" /><path d="M81.7,132.5V134.7" /><path d="M82.9,138.6V141.0" /><path d="M85.3,147.0V149.8" /><path d="M86.5,148.5V151.5" /><path d="M87.9,155.2V158.4" /><path d="M89.6,160.8V164.2" /><path d="M91.5,168.0V171.6" /><path d="M94.3,174.9V178.9" /><path d="M96.2,184.1V188.4" /><path d="M99.3,190.2V194.8" /><path d="M100.9,195.6V200.4" /><path d="M103.2,197.8V202.8" /><path d="M104.8,203.2V208.4" /><path d="M106.4,207.0V212.4" /><path d="M109.5,210.2V216.0" /><path d="M111.1,213.3V219.2" /><path d="M113.4,214.0V220.0" /><path d="M114.2,221.7V227.9" /><path d="M116.5,228.7V235.1" /><path d="M118.9,230.1V236.7" /><path d="M121.2,233.2V240.0" /><path d="M122.0,239.4V246.2" /><path d="M124.4,235.9V242.9" /><path d="M122.8,239.0V246.0" /><path d="M125.4,245.9V253.1" /><path d="M128.1,247.9V255.3" /><path d="M132.4,255.8V263.6" /><path d="M136.4,254.9V262.9" /><path d="M129.3,260.9V268.5" /><path d="M137.9,266.1V274.3" /><path d="M151.2,238.7V247.9" /><path d="M152.8,244.8V254.2" /><path d="M147.3,251.3V260.3" /><path d="M149.6,256.5V265.5" /><path d="M179.3,256.1V267.1" /><path d="M177.8,267.0V278.0" /><path d="M196.1,266.4V278.6" /><path d="M210.6,271.5V284.5" /><path d="M194.5,277.4V289.4" /><path d="M230.9,294.8V309.0" /><path d="M227.4,301.4V315.4" /></g>
<path d="M79.50,27.30 L79.65,28.29 L79.80,29.28 L79.95,30.27 L80.09,31.26 L80.24,32.24 L80.39,33.23 L80.54,34.22 L80.69,35.21 L80.84,36.20 L80.98,37.19 L81.13,38.18 L81.28,39.17 L81.43,40.16 L81.58,41.14 L81.73,42.13 L81.88,43.12 L82.03,44.11 L82.18,45.10 L82.33,46.09 L82.48,47.08 L82.63,48.07 L82.78,49.05 L82.93,50.04 L83.08,51.03 L83.23,52.02 L83.38,53.01 L83.54,54.00 L83.69,54.98 L83.84,55.97 L84.00,56.96 L84.15,57.95 L84.31,58.94 L84.47,59.92 L84.63,60.91 L84.78,61.90 L84.94,62.89 L85.10,63.87 L85.26,64.86 L85.43,65.85 L85.59,66.83 L85.75,67.82 L85.91,68.81 L86.07,69.79 L86.23,70.78 L86.40,71.77 L86.56,72.75 L86.72,73.74 L86.88,74.73 L87.04,75.71 L87.21,76.70 L87.37,77.69 L87.53,78.68 L87.69,79.66 L87.85,80.65 L88.00,81.64 L88.16,82.63 L88.31,83.61 L88.46,84.60 L88.61,85.59 L88.75,86.58 L88.89,87.57 L89.02,88.56 L89.15,89.55 L89.27,90.55 L89.39,91.54 L89.51,92.53 L89.63,93.52 L89.75,94.52 L89.88,95.51 L90.01,96.50 L90.15,97.49 L90.29,98.48 L90.43,99.47 L90.59,100.45 L90.75,101.44 L90.91,102.43 L91.08,103.41 L91.26,104.40 L91.44,105.38 L91.63,106.36 L91.82,107.34 L92.01,108.32 L92.22,109.30 L92.42,110.28 L92.63,111.26 L92.85,112.24 L93.07,113.21 L93.29,114.19 L93.52,115.16 L93.75,116.13 L93.99,117.10 L94.23,118.07 L94.47,119.04 L94.72,120.01 L94.98,120.98 L95.23,121.95 L95.50,122.91 L95.76,123.87 L96.03,124.84 L96.30,125.80 L96.58,126.76 L96.86,127.72 L97.15,128.68 L97.44,129.64 L97.73,130.59 L98.02,131.55 L98.32,132.50 L98.62,133.46 L98.93,134.41 L99.23,135.36 L99.54,136.31 L99.86,137.26 L100.17,138.21 L100.49,139.16 L100.82,140.10 L101.14,141.05 L101.47,141.99 L101.80,142.94 L102.13,143.88 L102.47,144.82 L102.81,145.76 L103.15,146.70 L103.49,147.64 L103.84,148.58 L104.19,149.51 L104.54,150.45 L104.89,151.39 L105.25,152.32 L105.61,153.25 L105.97,154.19 L106.33,155.12 L106.69,156.05 L107.06,156.98 L107.43,157.91 L107.80,158.84 L108.17,159.77 L108.54,160.70 L108.92,161.62 L109.30,162.55 L109.68,163.47 L110.06,164.40 L110.44,165.32 L110.83,166.24 L111.21,167.17 L111.60,168.09 L111.99,169.01 L112.38,169.93 L112.77,170.85 L113.17,171.77 L113.56,172.69 L113.96,173.61 L114.36,174.52 L114.75,175.44 L115.16,176.36 L115.56,177.27 L115.96,178.19 L116.36,179.10 L116.77,180.02 L117.18,180.93 L117.58,181.84 L118.00,182.75 L118.41,183.67 L118.82,184.58 L119.24,185.48 L119.66,186.39 L120.07,187.30 L120.49,188.21 L120.90,189.12 L121.32,190.03 L121.72,190.94 L122.13,191.86 L122.52,192.78 L122.91,193.70 L123.30,194.62 L123.68,195.54 L124.05,196.47 L124.43,197.40 L124.79,198.33 L125.16,199.26 L125.52,200.19 L125.88,201.13 L126.23,202.06 L126.59,203.00 L126.94,203.93 L127.29,204.87 L127.64,205.80 L127.99,206.74 L128.34,207.68 L128.69,208.62 L129.03,209.56 L129.37,210.49 L129.72,211.43 L130.06,212.37 L130.40,213.31 L130.74,214.25 L131.08,215.20 L131.41,216.14 L131.75,217.08 L132.08,218.02 L132.40,218.97 L132.73,219.92 L133.05,220.86 L133.36,221.81 L133.67,222.76 L133.97,223.72 L134.27,224.67 L134.56,225.63 L134.84,226.59 L135.12,227.55 L135.39,228.51 L135.65,229.47 L135.91,230.44 L136.16,231.41 L136.41,232.37 L136.65,233.34 L136.89,234.32 L137.13,235.29 L137.37,236.26 L137.60,237.23 L137.84,238.20 L138.08,239.17 L138.32,240.14 L138.56,241.11 L138.80,242.08 L139.04,243.06 L139.28,244.03 L139.53,245.00 L139.77,245.97 L140.02,246.93 L140.26,247.90 L140.51,248.87 L140.77,249.84 L141.03,250.80 L141.30,251.76 L141.59,252.72 L141.88,253.67 L142.20,254.62 L142.53,255.56 L142.88,256.49 L143.25,257.42 L143.65,258.33 L144.06,259.24 L144.50,260.13 L144.96,261.01 L145.45,261.88 L145.95,262.74 L146.48,263.59 L147.03,264.42 L147.60,265.23 L148.20,266.02 L148.82,266.79 L149.48,267.53 L150.16,268.23 L150.88,268.90 L151.63,269.53 L152.41,270.11 L153.23,270.64 L154.08,271.12 L154.95,271.55 L155.85,271.93 L156.78,272.26 L157.72,272.54 L158.68,272.79 L159.64,273.00 L160.62,273.18 L161.60,273.34 L162.59,273.49 L163.58,273.63 L164.57,273.76 L165.56,273.90 L166.55,274.04 L167.53,274.20 L168.52,274.36 L169.50,274.55 L170.47,274.75 L171.44,274.97 L172.41,275.22 L173.37,275.49 L174.32,275.79 L175.26,276.11 L176.19,276.46 L177.11,276.83 L178.02,277.24 L178.91,277.67 L179.80,278.12 L180.67,278.60 L181.53,279.10 L182.38,279.63 L183.22,280.16 L184.05,280.72 L184.88,281.28 L185.69,281.86 L186.50,282.44 L187.31,283.03 L188.11,283.63 L188.91,284.23 L189.71,284.83 L190.50,285.44 L191.30,286.04 L192.09,286.65 L192.89,287.25 L193.69,287.86 L194.49,288.46 L195.29,289.05 L196.10,289.64 L196.91,290.23 L197.72,290.81 L198.55,291.37 L199.38,291.93 L200.22,292.46 L201.07,292.98 L201.93,293.48 L202.80,293.95 L203.69,294.39 L204.59,294.79 L205.51,295.16 L206.44,295.49 L207.38,295.77 L208.34,296.01 L209.30,296.20 L210.28,296.34 L211.25,296.43 L212.24,296.47 L213.22,296.46 L214.21,296.42 L215.20,296.33 L216.18,296.22 L217.17,296.07 L218.15,295.90 L219.13,295.71 L220.11,295.51 L221.08,295.29 L222.05,295.06 L223.02,294.82 L223.99,294.57 L224.96,294.32 L225.92,294.05 L226.88,293.77 L227.84,293.48 L228.79,293.18 L229.74,292.87 L230.68,292.55 L231.62,292.21 L232.56,291.86 L233.49,291.50 L234.42,291.12 L235.34,290.74 L236.25,290.34 L237.16,289.93 L238.07,289.51 L238.98,289.09 L239.88,288.66 L240.78,288.23 L241.69,287.80 L242.59,287.36 L243.49,286.93 L244.39,286.51 L245.30,286.08 L246.21,285.66 L247.11,285.25 L248.03,284.83 L248.94,284.42 L249.85,284.02 L250.77,283.61 L251.68,283.21 L252.59,282.80 L253.51,282.39 L254.42,281.98 L255.32,281.56 L256.22,281.13 L257.12,280.69 L258.01,280.23 L258.89,279.77 L259.77,279.29 L260.64,278.80 L261.50,278.30 L262.37,277.80 L263.23,277.30 L264.09,276.80 L264.96,276.31 L265.84,275.83 L266.72,275.36 L267.60,274.90 L268.50,274.45 L269.40,274.02 L270.30,273.60 L271.21,273.19 L272.13,272.78 L273.04,272.38 L273.96,271.99 L274.88,271.60 L275.81,271.22 L276.73,270.83 L277.66,270.45 L278.58,270.08 L279.51,269.70 L280.44,269.33 L281.37,268.97 L282.30,268.60 L283.23,268.24 L284.17,267.88 L285.10,267.53 L286.04,267.18 L286.98,266.83 L287.92,266.49 L288.86,266.16 L289.80,265.82 L290.74,265.49 L291.69,265.17 L292.64,264.85 L293.59,264.53 L294.54,264.22 L295.49,263.91 L296.44,263.61 L297.39,263.31 L298.35,263.02 L299.31,262.73 L300.26,262.44 L301.22,262.16 L302.18,261.88 L303.15,261.61 L304.11,261.34 L305.07,261.08 L306.04,260.82 L307.01,260.57 L307.98,260.32 L308.95,260.08 L309.92,259.85 L310.89,259.62 L311.87,259.39 L312.84,259.18 L313.82,258.97 L314.80,258.76 L315.78,258.56 L316.76,258.37 L317.74,258.18 L318.72,258.00 L319.71,257.83 L320.69,257.66 L321.68,257.50 L322.67,257.35 L323.66,257.20 L324.65,257.06 L325.64,256.92 L326.63,256.78 L327.62,256.66 L328.61,256.53 L329.61,256.41 L330.60,256.30 L331.59,256.19 L332.59,256.08 L333.58,255.98 L334.58,255.88 L335.57,255.79 L336.57,255.69 L337.56,255.61 L338.56,255.53 L339.56,255.45 L340.55,255.38 L341.55,255.31 L342.55,255.24 L343.55,255.18 L344.55,255.12 L345.54,255.07 L346.54,255.02 L347.54,254.97 L348.54,254.93 L349.54,254.88 L350.54,254.84 L351.54,254.80 L352.54,254.76 L353.54,254.72 L354.54,254.69 L355.53,254.65 L356.53,254.62 L357.53,254.58 L358.53,254.55 L359.53,254.51 L360.53,254.48 L361.53,254.44 L362.50,254.40" fill="none" stroke="#000" stroke-width="2.6"/>
<path d="M362.50,286.60 L361.50,286.60 L360.50,286.59 L359.50,286.59 L358.50,286.59 L357.50,286.58 L356.50,286.58 L355.50,286.58 L354.50,286.58 L353.50,286.58 L352.50,286.59 L351.50,286.60 L350.50,286.61 L349.50,286.62 L348.50,286.63 L347.50,286.65 L346.50,286.67 L345.50,286.69 L344.50,286.71 L343.50,286.73 L342.50,286.76 L341.50,286.79 L340.50,286.83 L339.50,286.87 L338.50,286.91 L337.51,286.96 L336.51,287.02 L335.51,287.08 L334.51,287.14 L333.51,287.21 L332.52,287.28 L331.52,287.35 L330.52,287.43 L329.52,287.50 L328.53,287.58 L327.53,287.66 L326.53,287.74 L325.54,287.82 L324.54,287.90 L323.54,287.98 L322.55,288.06 L321.55,288.15 L320.55,288.24 L319.56,288.32 L318.56,288.41 L317.57,288.50 L316.57,288.59 L315.58,288.69 L314.58,288.78 L313.58,288.88 L312.59,288.98 L311.60,289.08 L310.60,289.19 L309.61,289.29 L308.61,289.40 L307.62,289.51 L306.62,289.61 L305.63,289.72 L304.63,289.83 L303.64,289.93 L302.65,290.03 L301.65,290.13 L300.66,290.23 L299.66,290.33 L298.66,290.43 L297.67,290.52 L296.67,290.62 L295.68,290.72 L294.68,290.83 L293.69,290.94 L292.70,291.05 L291.70,291.17 L290.71,291.30 L289.72,291.43 L288.73,291.57 L287.74,291.71 L286.75,291.85 L285.76,292.00 L284.78,292.16 L283.79,292.32 L282.80,292.48 L281.82,292.65 L280.83,292.82 L279.85,293.00 L278.86,293.18 L277.88,293.37 L276.90,293.56 L275.92,293.76 L274.94,293.96 L273.96,294.17 L272.98,294.38 L272.01,294.59 L271.03,294.80 L270.05,295.01 L269.07,295.22 L268.10,295.43 L267.12,295.64 L266.14,295.84 L265.16,296.04 L264.18,296.25 L263.20,296.45 L262.22,296.65 L261.24,296.85 L260.26,297.05 L259.28,297.25 L258.30,297.45 L257.32,297.65 L256.34,297.85 L255.36,298.05 L254.38,298.25 L253.40,298.45 L252.42,298.66 L251.45,298.86 L250.47,299.06 L249.49,299.26 L248.51,299.45 L247.52,299.64 L246.54,299.83 L245.56,300.00 L244.57,300.17 L243.58,300.33 L242.60,300.49 L241.61,300.63 L240.62,300.77 L239.62,300.90 L238.63,301.02 L237.64,301.15 L236.65,301.27 L235.65,301.39 L234.66,301.50 L233.67,301.62 L232.68,301.75 L231.68,301.87 L230.69,302.01 L229.70,302.14 L228.71,302.29 L227.72,302.43 L226.74,302.58 L225.75,302.72 L224.76,302.86 L223.76,302.99 L222.77,303.11 L221.78,303.21 L220.78,303.30 L219.78,303.36 L218.79,303.41 L217.79,303.45 L216.79,303.47 L215.79,303.47 L214.79,303.46 L213.79,303.44 L212.79,303.40 L211.79,303.36 L210.79,303.30 L209.79,303.23 L208.80,303.15 L207.80,303.06 L206.81,302.97 L205.81,302.86 L204.82,302.74 L203.83,302.61 L202.84,302.47 L201.85,302.32 L200.87,302.15 L199.88,301.98 L198.90,301.79 L197.92,301.59 L196.94,301.38 L195.97,301.16 L195.00,300.92 L194.03,300.67 L193.07,300.40 L192.11,300.12 L191.15,299.83 L190.19,299.54 L189.24,299.24 L188.29,298.93 L187.34,298.62 L186.39,298.31 L185.44,298.00 L184.49,297.68 L183.54,297.36 L182.60,297.03 L181.65,296.70 L180.71,296.36 L179.78,296.01 L178.84,295.67 L177.90,295.33 L176.95,295.00 L176.00,294.69 L175.05,294.40 L174.09,294.12 L173.12,293.88 L172.14,293.66 L171.16,293.47 L170.18,293.30 L169.19,293.15 L168.20,293.02 L167.21,292.91 L166.21,292.80 L165.22,292.69 L164.22,292.58 L163.23,292.46 L162.24,292.33 L161.25,292.19 L160.26,292.03 L159.28,291.87 L158.29,291.70 L157.31,291.52 L156.32,291.34 L155.35,291.14 L154.37,290.92 L153.41,290.66 L152.47,290.34 L151.55,289.98 L150.66,289.54 L149.80,289.05 L148.97,288.49 L148.19,287.89 L147.44,287.24 L146.71,286.55 L146.02,285.84 L145.34,285.10 L144.67,284.35 L144.02,283.60 L143.38,282.83 L142.73,282.07 L142.09,281.30 L141.45,280.53 L140.82,279.76 L140.18,278.98 L139.56,278.20 L138.95,277.41 L138.34,276.62 L137.74,275.82 L137.14,275.02 L136.54,274.22 L135.93,273.43 L135.31,272.64 L134.68,271.87 L134.04,271.10 L133.39,270.34 L132.73,269.59 L132.07,268.84 L131.40,268.10 L130.73,267.36 L130.05,266.62 L129.37,265.89 L128.68,265.16 L128.00,264.43 L127.31,263.70 L126.62,262.98 L125.93,262.26 L125.24,261.53 L124.55,260.82 L123.85,260.10 L123.15,259.39 L122.44,258.68 L121.74,257.97 L121.03,257.26 L120.32,256.55 L119.62,255.84 L118.92,255.13 L118.22,254.42 L117.52,253.70 L116.82,252.98 L116.13,252.26 L115.44,251.54 L114.75,250.81 L114.06,250.09 L113.37,249.36 L112.68,248.64 L111.99,247.92 L111.30,247.19 L110.61,246.47 L109.91,245.75 L109.21,245.04 L108.51,244.33 L107.79,243.63 L107.08,242.94 L106.35,242.25 L105.62,241.56 L104.90,240.87 L104.17,240.18 L103.46,239.49 L102.75,238.78 L102.06,238.06 L101.39,237.32 L100.74,236.56 L100.12,235.78 L99.52,234.98 L98.95,234.16 L98.39,233.33 L97.87,232.48 L97.36,231.62 L96.87,230.75 L96.40,229.87 L95.94,228.98 L95.49,228.09 L95.05,227.19 L94.63,226.28 L94.22,225.37 L93.82,224.45 L93.43,223.53 L93.06,222.61 L92.69,221.68 L92.33,220.74 L91.98,219.81 L91.63,218.87 L91.28,217.93 L90.94,216.99 L90.59,216.06 L90.24,215.12 L89.90,214.18 L89.55,213.24 L89.21,212.30 L88.87,211.36 L88.53,210.42 L88.20,209.48 L87.86,208.54 L87.53,207.59 L87.19,206.65 L86.86,205.71 L86.52,204.77 L86.18,203.83 L85.84,202.88 L85.50,201.94 L85.16,201.00 L84.82,200.06 L84.48,199.13 L84.14,198.19 L83.80,197.25 L83.45,196.31 L83.11,195.37 L82.78,194.42 L82.43,193.48 L82.09,192.54 L81.75,191.61 L81.40,190.67 L81.06,189.73 L80.71,188.79 L80.36,187.85 L80.02,186.91 L79.69,185.97 L79.36,185.03 L79.05,184.08 L78.76,183.12 L78.50,182.16 L78.27,181.19 L78.09,180.21 L77.95,179.22 L77.84,178.23 L77.74,177.24 L77.62,176.25 L77.45,175.27 L77.21,174.32 L76.89,173.39 L76.48,172.49 L76.00,171.63 L75.46,170.79 L74.88,169.98 L74.27,169.19 L73.64,168.41 L73.00,167.64 L72.35,166.88 L71.70,166.13 L71.10,165.40" fill="none" stroke="#0000ff" stroke-width="3.6" stroke-dasharray="2.6 9.35" stroke-dashoffset="1.65" stroke-linecap="round"/><path d="M359.9,286.6H362.5" stroke="#0000ff" stroke-width="3.6" stroke-linecap="round"/><path d="M72.1,166.7L76.0,171.9" stroke="#0000ff" stroke-width="3.6" stroke-linecap="round"/>
<path d="M364.00,274.40 L363.00,274.45 L362.00,274.50 L361.00,274.55 L360.00,274.60 L359.01,274.65 L358.01,274.69 L357.01,274.74 L356.01,274.79 L355.01,274.84 L354.01,274.89 L353.01,274.94 L352.01,274.98 L351.02,275.03 L350.02,275.07 L349.02,275.12 L348.02,275.16 L347.02,275.20 L346.02,275.24 L345.02,275.27 L344.02,275.30 L343.02,275.33 L342.02,275.35 L341.02,275.38 L340.02,275.40 L339.02,275.43 L338.02,275.47 L337.02,275.51 L336.03,275.56 L335.03,275.61 L334.03,275.68 L333.03,275.75 L332.04,275.83 L331.04,275.92 L330.04,276.01 L329.05,276.10 L328.05,276.20 L327.06,276.30 L326.06,276.40 L325.07,276.50 L324.07,276.59 L323.08,276.69 L322.08,276.78 L321.08,276.87 L320.09,276.95 L319.09,277.04 L318.10,277.13 L317.10,277.21 L316.10,277.30 L315.11,277.39 L314.11,277.48 L313.12,277.58 L312.12,277.69 L311.13,277.79 L310.13,277.91 L309.14,278.03 L308.15,278.15 L307.16,278.28 L306.17,278.41 L305.18,278.54 L304.18,278.68 L303.19,278.82 L302.20,278.96 L301.22,279.11 L300.23,279.26 L299.24,279.41 L298.25,279.56 L297.26,279.71 L296.27,279.87 L295.29,280.03 L294.30,280.20 L293.31,280.36 L292.33,280.53 L291.34,280.70 L290.36,280.87 L289.37,281.05 L288.39,281.22 L287.40,281.40 L286.42,281.57 L285.44,281.75 L284.45,281.93 L283.47,282.10 L282.48,282.28 L281.50,282.46 L280.52,282.64 L279.53,282.83 L278.55,283.02 L277.57,283.22 L276.59,283.42 L275.62,283.64 L274.65,283.87 L273.68,284.11 L272.71,284.37 L271.75,284.65 L270.79,284.94 L269.84,285.24 L268.89,285.55 L267.94,285.86 L266.98,286.16 L266.03,286.45 L265.07,286.73 L264.11,287.00 L263.14,287.25 L262.17,287.50 L261.20,287.73 L260.22,287.96 L259.25,288.18 L258.27,288.40 L257.30,288.62 L256.32,288.84 L255.35,289.06 L254.37,289.28 L253.39,289.50 L252.42,289.72 L251.45,289.95 L250.47,290.18 L249.50,290.41 L248.53,290.65 L247.56,290.88 L246.58,291.11 L245.61,291.35 L244.64,291.58 L243.67,291.81 L242.69,292.05 L241.72,292.28 L240.75,292.52 L239.78,292.76 L238.81,293.00 L237.84,293.25 L236.87,293.49 L235.90,293.74 L234.93,293.99 L233.96,294.23 L232.99,294.46 L232.01,294.68 L231.04,294.89 L230.06,295.08 L229.07,295.26 L228.09,295.43 L227.10,295.59 L226.11,295.73 L225.12,295.87 L224.13,295.99 L223.14,296.10 L222.14,296.20 L221.14,296.29 L220.15,296.36 L219.15,296.41 L218.15,296.45 L217.15,296.47 L216.15,296.48 L215.15,296.47 L214.15,296.44 L213.15,296.40 L212.16,296.34 L211.16,296.27 L210.16,296.18 L209.17,296.08 L208.18,295.96 L207.19,295.83 L206.20,295.68 L205.21,295.51 L204.23,295.32 L203.25,295.12 L202.27,294.91 L201.30,294.68 L200.33,294.43 L199.37,294.17 L198.41,293.90 L197.45,293.61 L196.49,293.32 L195.54,293.01 L194.59,292.70 L193.65,292.37 L192.71,292.03 L191.77,291.68 L190.84,291.31 L189.92,290.93 L189.00,290.53 L188.09,290.13 L187.17,289.72 L186.26,289.31 L185.35,288.89 L184.44,288.49 L183.52,288.08 L182.61,287.68 L181.69,287.28 L180.77,286.88 L179.86,286.48 L178.94,286.08 L178.03,285.68 L177.11,285.28 L176.19,284.88 L175.27,284.50 L174.34,284.13 L173.40,283.78 L172.46,283.45 L171.51,283.15 L170.55,282.89 L169.58,282.67 L168.60,282.48 L167.61,282.34 L166.62,282.23 L165.62,282.14 L164.62,282.06 L163.63,281.98 L162.63,281.89 L161.64,281.77 L160.65,281.63 L159.67,281.45 L158.70,281.24 L157.72,281.01 L156.76,280.76 L155.79,280.50 L154.83,280.21 L153.88,279.91 L152.94,279.57 L152.02,279.20 L151.11,278.79 L150.23,278.33 L149.38,277.81 L148.57,277.24 L147.80,276.62 L147.07,275.94 L146.39,275.22 L145.75,274.46 L145.14,273.67 L144.56,272.86 L144.00,272.03 L143.45,271.20 L142.92,270.35 L142.39,269.50 L141.86,268.66 L141.32,267.81 L140.79,266.97 L140.26,266.12 L139.73,265.27 L139.22,264.41 L138.71,263.55 L138.20,262.69 L137.70,261.82 L137.20,260.95 L136.70,260.09 L136.20,259.22 L135.69,258.37 L135.17,257.51 L134.65,256.66 L134.12,255.81 L133.59,254.96 L133.05,254.12 L132.51,253.27 L131.97,252.43 L131.43,251.59 L130.88,250.76 L130.33,249.92 L129.78,249.09 L129.23,248.25 L128.68,247.42 L128.12,246.59 L127.57,245.76 L127.01,244.93 L126.45,244.09 L125.90,243.27 L125.33,242.44 L124.77,241.61 L124.20,240.79 L123.63,239.97 L123.04,239.16 L122.46,238.35 L121.86,237.55 L121.26,236.75 L120.65,235.96 L120.03,235.17 L119.40,234.39 L118.77,233.62 L118.13,232.85 L117.48,232.09 L116.84,231.32 L116.19,230.56 L115.54,229.80 L114.90,229.04 L114.25,228.27 L113.61,227.51 L112.96,226.74 L112.32,225.98 L111.68,225.21 L111.03,224.45 L110.39,223.68 L109.74,222.92 L109.10,222.15 L108.46,221.38 L107.83,220.61 L107.19,219.83 L106.57,219.06 L105.94,218.27 L105.32,217.49 L104.70,216.70 L104.09,215.92 L103.47,215.13 L102.86,214.34 L102.26,213.54 L101.67,212.73 L101.09,211.92 L100.52,211.10 L99.97,210.26 L99.44,209.41 L98.93,208.55 L98.44,207.68 L97.97,206.80 L97.52,205.91 L97.08,205.01 L96.66,204.11 L96.25,203.20 L95.85,202.28 L95.46,201.36 L95.07,200.44 L94.69,199.51 L94.32,198.58 L93.95,197.65 L93.59,196.72 L93.24,195.79 L92.89,194.85 L92.55,193.91 L92.21,192.97 L91.89,192.02 L91.57,191.07 L91.25,190.13 L90.94,189.18 L90.63,188.22 L90.33,187.27 L90.03,186.32 L89.74,185.36 L89.45,184.40 L89.17,183.44 L88.90,182.48 L88.63,181.52 L88.36,180.55 L88.10,179.59 L87.84,178.62 L87.57,177.66 L87.31,176.70 L87.04,175.73 L86.77,174.77 L86.49,173.81 L86.21,172.85 L85.93,171.89 L85.64,170.93 L85.35,169.97 L85.06,169.02 L84.78,168.06 L84.50,167.10 L84.22,166.14 L83.96,165.17 L83.71,164.21 L83.47,163.24 L83.24,162.26 L83.03,161.28 L82.83,160.30 L82.64,159.32 L82.46,158.34 L82.28,157.36 L82.08,156.38 L81.88,155.40 L81.67,154.42 L81.44,153.45 L81.19,152.48 L80.94,151.51 L80.68,150.55 L80.41,149.58 L80.13,148.62 L79.85,147.66 L79.56,146.71 L79.27,145.75 L78.98,144.79 L78.68,143.84 L78.39,142.88 L78.09,141.93 L77.79,140.97 L77.50,140.02 L77.20,139.06 L76.90,138.11 L76.60,137.15 L76.29,136.20 L75.98,135.25 L75.66,134.31 L75.33,133.36 L74.99,132.42 L74.63,131.49 L74.26,130.56 L73.87,129.64 L73.46,128.73 L73.03,127.83 L72.58,126.93 L72.13,126.04 L71.66,125.16 L71.19,124.28 L70.71,123.40 L70.50,123.00" fill="none" stroke="#ff00ff" stroke-width="3.6" stroke-dasharray="2.6 9.35" stroke-dashoffset="8.85" stroke-linecap="round"/><path d="M360.7,274.4H363.3" stroke="#ff00ff" stroke-width="3.6" stroke-linecap="round"/><path d="M71.2,124.4L73.7,129.4" stroke="#ff00ff" stroke-width="3.6" stroke-linecap="round"/>
<path d="M363.30,265.60 L362.30,265.61 L361.30,265.63 L360.30,265.64 L359.30,265.66 L358.30,265.68 L357.30,265.70 L356.30,265.73 L355.30,265.76 L354.30,265.80 L353.30,265.85 L352.31,265.90 L351.31,265.96 L350.31,266.02 L349.31,266.08 L348.31,266.15 L347.32,266.22 L346.32,266.29 L345.32,266.36 L344.32,266.43 L343.33,266.49 L342.33,266.56 L341.33,266.62 L340.33,266.68 L339.33,266.74 L338.33,266.79 L337.34,266.84 L336.34,266.90 L335.34,266.95 L334.34,267.01 L333.34,267.07 L332.34,267.13 L331.35,267.20 L330.35,267.28 L329.35,267.36 L328.36,267.45 L327.36,267.54 L326.37,267.64 L325.37,267.74 L324.38,267.84 L323.38,267.95 L322.39,268.06 L321.40,268.18 L320.40,268.30 L319.41,268.42 L318.42,268.55 L317.43,268.69 L316.44,268.82 L315.45,268.97 L314.46,269.11 L313.47,269.26 L312.48,269.42 L311.49,269.57 L310.51,269.73 L309.52,269.89 L308.53,270.05 L307.55,270.21 L306.56,270.37 L305.57,270.53 L304.58,270.69 L303.60,270.85 L302.61,271.01 L301.62,271.17 L300.64,271.33 L299.65,271.49 L298.66,271.66 L297.68,271.83 L296.69,272.00 L295.71,272.18 L294.73,272.37 L293.75,272.56 L292.77,272.76 L291.79,272.97 L290.81,273.19 L289.84,273.40 L288.86,273.63 L287.89,273.86 L286.91,274.09 L285.94,274.32 L284.97,274.56 L284.00,274.80 L283.03,275.04 L282.06,275.29 L281.09,275.53 L280.12,275.78 L279.15,276.03 L278.19,276.28 L277.22,276.54 L276.25,276.80 L275.29,277.06 L274.32,277.32 L273.36,277.59 L272.40,277.86 L271.44,278.14 L270.48,278.42 L269.52,278.70 L268.56,278.99 L267.61,279.29 L266.65,279.59 L265.70,279.90 L264.75,280.20 L263.80,280.51 L262.85,280.82 L261.90,281.13 L260.94,281.44 L259.99,281.74 L259.04,282.05 L258.09,282.35 L257.14,282.66 L256.18,282.97 L255.23,283.27 L254.28,283.58 L253.33,283.88 L252.37,284.18 L251.42,284.47 L250.46,284.75 L249.50,285.03 L248.53,285.28 L247.56,285.53 L246.59,285.76 L245.61,285.97 L244.63,286.18 L243.65,286.37 L242.67,286.55 L241.68,286.73 L240.70,286.90 L239.72,287.08 L238.73,287.27 L237.75,287.47 L236.78,287.68 L235.80,287.90 L234.83,288.15 L233.87,288.40 L232.91,288.68 L231.94,288.95 L230.99,289.24 L230.03,289.52 L229.06,289.79 L228.10,290.05 L227.13,290.30 L226.16,290.52 L225.18,290.72 L224.19,290.89 L223.21,291.04 L222.22,291.16 L221.22,291.27 L220.23,291.36 L219.23,291.43 L218.23,291.47 L217.23,291.50 L216.23,291.51 L215.23,291.50 L214.23,291.46 L213.24,291.40 L212.24,291.32 L211.25,291.21 L210.26,291.07 L209.27,290.92 L208.29,290.74 L207.31,290.54 L206.33,290.34 L205.36,290.11 L204.38,289.88 L203.41,289.64 L202.44,289.39 L201.48,289.14 L200.51,288.89 L199.55,288.62 L198.58,288.35 L197.62,288.07 L196.67,287.78 L195.71,287.48 L194.76,287.18 L193.81,286.86 L192.87,286.53 L191.93,286.20 L190.99,285.85 L190.06,285.49 L189.13,285.11 L188.21,284.72 L187.30,284.31 L186.40,283.88 L185.49,283.45 L184.59,283.02 L183.69,282.59 L182.78,282.18 L181.86,281.78 L180.94,281.40 L180.00,281.05 L179.06,280.71 L178.11,280.40 L177.16,280.10 L176.20,279.82 L175.24,279.54 L174.27,279.28 L173.31,279.02 L172.34,278.76 L171.38,278.50 L170.41,278.23 L169.45,277.97 L168.49,277.70 L167.52,277.43 L166.56,277.17 L165.59,276.91 L164.62,276.66 L163.66,276.41 L162.69,276.16 L161.72,275.90 L160.76,275.63 L159.80,275.35 L158.85,275.04 L157.91,274.70 L156.99,274.32 L156.09,273.91 L155.20,273.44 L154.35,272.94 L153.51,272.39 L152.71,271.81 L151.93,271.19 L151.17,270.54 L150.44,269.86 L149.73,269.16 L149.03,268.44 L148.36,267.70 L147.70,266.95 L147.06,266.18 L146.44,265.40 L145.84,264.60 L145.27,263.78 L144.72,262.95 L144.18,262.11 L143.67,261.25 L143.17,260.38 L142.67,259.51 L142.19,258.64 L141.70,257.77 L141.22,256.89 L140.73,256.02 L140.24,255.15 L139.75,254.27 L139.26,253.40 L138.78,252.53 L138.30,251.65 L137.82,250.77 L137.35,249.89 L136.87,249.01 L136.40,248.13 L135.93,247.25 L135.46,246.36 L134.99,245.48 L134.53,244.59 L134.06,243.71 L133.60,242.82 L133.14,241.93 L132.68,241.05 L132.22,240.16 L131.76,239.27 L131.30,238.38 L130.83,237.50 L130.36,236.62 L129.88,235.74 L129.39,234.87 L128.90,234.00 L128.39,233.14 L127.88,232.28 L127.37,231.42 L126.85,230.57 L126.32,229.71 L125.79,228.87 L125.26,228.02 L124.73,227.17 L124.20,226.32 L123.67,225.47 L123.14,224.62 L122.62,223.77 L122.09,222.92 L121.57,222.07 L121.05,221.22 L120.53,220.36 L120.00,219.51 L119.48,218.66 L118.96,217.81 L118.43,216.96 L117.90,216.11 L117.37,215.26 L116.83,214.42 L116.30,213.58 L115.76,212.73 L115.21,211.89 L114.67,211.06 L114.12,210.22 L113.57,209.38 L113.02,208.55 L112.46,207.72 L111.91,206.89 L111.35,206.06 L110.78,205.23 L110.21,204.41 L109.64,203.59 L109.06,202.78 L108.47,201.97 L107.88,201.16 L107.29,200.35 L106.71,199.54 L106.12,198.73 L105.55,197.91 L104.98,197.09 L104.42,196.26 L103.88,195.42 L103.35,194.57 L102.83,193.72 L102.32,192.86 L101.82,191.99 L101.33,191.12 L100.84,190.25 L100.36,189.37 L99.90,188.49 L99.43,187.60 L98.98,186.71 L98.54,185.81 L98.10,184.91 L97.68,184.01 L97.27,183.10 L96.87,182.18 L96.49,181.25 L96.12,180.33 L95.77,179.39 L95.42,178.45 L95.09,177.51 L94.77,176.56 L94.45,175.61 L94.14,174.66 L93.83,173.71 L93.53,172.76 L93.22,171.81 L92.91,170.86 L92.61,169.91 L92.30,168.95 L92.00,168.00 L91.71,167.04 L91.42,166.09 L91.14,165.13 L90.87,164.16 L90.60,163.20 L90.35,162.23 L90.11,161.26 L89.89,160.29 L89.68,159.31 L89.48,158.33 L89.30,157.35 L89.13,156.36 L88.96,155.38 L88.80,154.39 L88.64,153.40 L88.47,152.42 L88.30,151.43 L88.13,150.45 L87.94,149.46 L87.75,148.48 L87.56,147.50 L87.36,146.52 L87.16,145.54 L86.95,144.56 L86.75,143.58 L86.54,142.61 L86.33,141.63 L86.12,140.65 L85.91,139.67 L85.70,138.69 L85.49,137.72 L85.28,136.74 L85.07,135.76 L84.86,134.78 L84.64,133.81 L84.43,132.83 L84.22,131.85 L84.00,130.88 L83.78,129.90 L83.56,128.93 L83.34,127.95 L83.12,126.98 L82.89,126.00 L82.66,125.03 L82.43,124.06 L82.19,123.08 L81.96,122.11 L81.72,121.14 L81.48,120.17 L81.23,119.20 L80.99,118.23 L80.75,117.26 L80.51,116.29 L80.26,115.32 L80.02,114.35 L79.77,113.38 L79.53,112.41 L79.29,111.44 L79.04,110.47 L78.80,109.50 L78.55,108.53 L78.31,107.56 L78.06,106.59 L77.81,105.63 L77.56,104.66 L77.31,103.69 L77.06,102.72 L76.81,101.75 L76.56,100.79 L76.31,99.82 L76.05,98.85 L75.80,97.88 L75.54,96.92 L75.27,95.96 L74.98,95.00 L74.68,94.04 L74.36,93.10 L74.03,92.16 L73.67,91.22 L73.30,90.29 L72.92,89.37 L72.52,88.45 L72.12,87.54 L71.72,86.63 L71.31,85.72 L70.90,84.81 L70.49,83.92 L70.40,83.70" fill="none" stroke="#006636" stroke-width="3.6" stroke-dasharray="2.6 9.35" stroke-dashoffset="3.75" stroke-linecap="round"/><path d="M359.7,265.6H362.3" stroke="#006636" stroke-width="3.6" stroke-linecap="round"/><path d="M71.0,85.2L73.7,91.3" stroke="#006636" stroke-width="3.6" stroke-linecap="round"/>
<circle cx="440.6" cy="235.8" r="2.5" fill="#ffff00" stroke="#000" stroke-width="1.35"/>
<circle cx="443.0" cy="238.1" r="2.5" fill="#ffff00" stroke="#000" stroke-width="1.35"/>
<circle cx="444.5" cy="248.3" r="2.5" fill="#ffff00" stroke="#000" stroke-width="1.35"/>
<circle cx="446.1" cy="246.7" r="2.5" fill="#ffff00" stroke="#000" stroke-width="1.35"/>
<circle cx="448.4" cy="256.1" r="2.5" fill="#ffff00" stroke="#000" stroke-width="1.35"/>
<circle cx="451.2" cy="257.7" r="2.5" fill="#ffff00" stroke="#000" stroke-width="1.35"/>
<circle cx="452.8" cy="263.1" r="2.5" fill="#ffff00" stroke="#000" stroke-width="1.35"/>
<circle cx="456.2" cy="263.9" r="2.5" fill="#ffff00" stroke="#000" stroke-width="1.35"/>
<circle cx="458.6" cy="256.9" r="2.5" fill="#ffff00" stroke="#000" stroke-width="1.35"/>
<circle cx="460.9" cy="263.1" r="2.5" fill="#ffff00" stroke="#000" stroke-width="1.35"/>
<circle cx="455.5" cy="267.8" r="2.5" fill="#ffff00" stroke="#000" stroke-width="1.35"/>
<circle cx="464.0" cy="268.6" r="2.5" fill="#ffff00" stroke="#000" stroke-width="1.35"/>
<circle cx="468.8" cy="267.8" r="2.5" fill="#ffff00" stroke="#000" stroke-width="1.35"/>
<circle cx="474.2" cy="268.6" r="2.5" fill="#ffff00" stroke="#000" stroke-width="1.35"/>
<circle cx="453.9" cy="266.9" r="2.5" fill="#ffff00" stroke="#000" stroke-width="1.35"/>
<circle cx="463.3" cy="270.5" r="2.5" fill="#ffff00" stroke="#000" stroke-width="1.35"/>
<circle cx="469.5" cy="271.6" r="2.5" fill="#ffff00" stroke="#000" stroke-width="1.35"/>
<circle cx="466.4" cy="275.9" r="2.5" fill="#ffff00" stroke="#000" stroke-width="1.35"/>
<circle cx="471.1" cy="275.2" r="2.5" fill="#ffff00" stroke="#000" stroke-width="1.35"/>
<circle cx="490.9" cy="270.2" r="2.5" fill="#ffff00" stroke="#000" stroke-width="1.35"/>
<circle cx="488.6" cy="271.0" r="2.5" fill="#ffff00" stroke="#000" stroke-width="1.35"/>
<circle cx="503.4" cy="279.5" r="2.5" fill="#ffff00" stroke="#000" stroke-width="1.35"/>
<circle cx="502.0" cy="280.3" r="2.5" fill="#ffff00" stroke="#000" stroke-width="1.35"/>
<circle cx="495.6" cy="288.9" r="2.5" fill="#ffff00" stroke="#000" stroke-width="1.35"/>
<circle cx="493.3" cy="290.5" r="2.5" fill="#ffff00" stroke="#000" stroke-width="1.35"/>
<circle cx="523.0" cy="295.9" r="2.5" fill="#ffff00" stroke="#000" stroke-width="1.35"/>
<circle cx="526.1" cy="278.0" r="2.5" fill="#ffff00" stroke="#000" stroke-width="1.35"/>
<circle cx="524.5" cy="285.0" r="2.5" fill="#ffff00" stroke="#000" stroke-width="1.35"/>
<circle cx="533.9" cy="270.2" r="2.5" fill="#ffff00" stroke="#000" stroke-width="1.35"/>
<circle cx="527.7" cy="263.1" r="2.5" fill="#ffff00" stroke="#000" stroke-width="1.35"/>
<circle cx="529.2" cy="255.8" r="2.5" fill="#ffff00" stroke="#000" stroke-width="1.35"/>
<circle cx="527.7" cy="262.8" r="2.5" fill="#ffff00" stroke="#000" stroke-width="1.35"/>
<circle cx="535.5" cy="282.7" r="2.5" fill="#ffff00" stroke="#000" stroke-width="1.35"/>
<circle cx="552.5" cy="260.0" r="2.5" fill="#ffff00" stroke="#000" stroke-width="1.35"/>
<circle cx="550.6" cy="276.9" r="2.5" fill="#ffff00" stroke="#000" stroke-width="1.35"/>
<circle cx="535.8" cy="269.4" r="2.5" fill="#ffff00" stroke="#000" stroke-width="1.35"/>
<circle cx="535.8" cy="281.9" r="2.5" fill="#ffff00" stroke="#000" stroke-width="1.35"/>
<circle cx="570.9" cy="297.5" r="2.5" fill="#ffff00" stroke="#000" stroke-width="1.35"/>
<circle cx="574.8" cy="301.9" r="2.5" fill="#ffff00" stroke="#000" stroke-width="1.35"/>
<circle cx="590.5" cy="312.0" r="2.5" fill="#ffff00" stroke="#000" stroke-width="1.35"/>
<circle cx="593.8" cy="288.9" r="2.5" fill="#ffff00" stroke="#000" stroke-width="1.35"/>
<circle cx="436.2" cy="162.5" r="2.5" fill="#00ffff" stroke="#000" stroke-width="1.35"/>
<circle cx="438.3" cy="173.0" r="2.5" fill="#00ffff" stroke="#000" stroke-width="1.35"/>
<circle cx="439.8" cy="181.6" r="2.5" fill="#00ffff" stroke="#000" stroke-width="1.35"/>
<circle cx="441.4" cy="180.0" r="2.5" fill="#00ffff" stroke="#000" stroke-width="1.35"/>
<circle cx="443.0" cy="189.7" r="2.5" fill="#00ffff" stroke="#000" stroke-width="1.35"/>
<circle cx="445.3" cy="196.0" r="2.5" fill="#00ffff" stroke="#000" stroke-width="1.35"/>
<circle cx="447.7" cy="198.8" r="2.5" fill="#00ffff" stroke="#000" stroke-width="1.35"/>
<circle cx="449.2" cy="201.9" r="2.5" fill="#00ffff" stroke="#000" stroke-width="1.35"/>
<circle cx="451.6" cy="205.8" r="2.5" fill="#00ffff" stroke="#000" stroke-width="1.35"/>
<circle cx="453.1" cy="210.5" r="2.5" fill="#00ffff" stroke="#000" stroke-width="1.35"/>
<circle cx="455.5" cy="215.5" r="2.5" fill="#00ffff" stroke="#000" stroke-width="1.35"/>
<circle cx="457.8" cy="217.8" r="2.5" fill="#00ffff" stroke="#000" stroke-width="1.35"/>
<circle cx="461.2" cy="220.9" r="2.5" fill="#00ffff" stroke="#000" stroke-width="1.35"/>
<circle cx="462.8" cy="225.3" r="2.5" fill="#00ffff" stroke="#000" stroke-width="1.35"/>
<circle cx="464.0" cy="233.4" r="2.5" fill="#00ffff" stroke="#000" stroke-width="1.35"/>
<circle cx="466.0" cy="234.7" r="2.5" fill="#00ffff" stroke="#000" stroke-width="1.35"/>
<circle cx="468.0" cy="238.9" r="2.5" fill="#00ffff" stroke="#000" stroke-width="1.35"/>
<circle cx="469.5" cy="241.2" r="2.5" fill="#00ffff" stroke="#000" stroke-width="1.35"/>
<circle cx="471.1" cy="248.3" r="2.5" fill="#00ffff" stroke="#000" stroke-width="1.35"/>
<circle cx="473.4" cy="249.8" r="2.5" fill="#00ffff" stroke="#000" stroke-width="1.35"/>
<circle cx="476.6" cy="251.4" r="2.5" fill="#00ffff" stroke="#000" stroke-width="1.35"/>
<circle cx="478.9" cy="255.3" r="2.5" fill="#00ffff" stroke="#000" stroke-width="1.35"/>
<circle cx="481.2" cy="258.4" r="2.5" fill="#00ffff" stroke="#000" stroke-width="1.35"/>
<circle cx="483.6" cy="261.6" r="2.5" fill="#00ffff" stroke="#000" stroke-width="1.35"/>
<circle cx="480.8" cy="255.8" r="2.5" fill="#00ffff" stroke="#000" stroke-width="1.35"/>
<circle cx="485.5" cy="264.7" r="2.5" fill="#00ffff" stroke="#000" stroke-width="1.35"/>
<circle cx="503.4" cy="257.3" r="2.5" fill="#00ffff" stroke="#000" stroke-width="1.35"/>
<circle cx="502.0" cy="260.0" r="2.5" fill="#00ffff" stroke="#000" stroke-width="1.35"/>
<circle cx="533.9" cy="255.3" r="2.5" fill="#00ffff" stroke="#000" stroke-width="1.35"/>
<circle cx="532.3" cy="259.7" r="2.5" fill="#00ffff" stroke="#000" stroke-width="1.35"/>
<circle cx="537.0" cy="258.9" r="2.5" fill="#00ffff" stroke="#000" stroke-width="1.35"/>
<circle cx="535.8" cy="255.3" r="2.5" fill="#00ffff" stroke="#000" stroke-width="1.35"/>
<circle cx="536.2" cy="265.5" r="2.5" fill="#00ffff" stroke="#000" stroke-width="1.35"/>
<circle cx="530.8" cy="283.4" r="2.5" fill="#00ffff" stroke="#000" stroke-width="1.35"/>
<circle cx="555.8" cy="263.9" r="2.5" fill="#00ffff" stroke="#000" stroke-width="1.35"/>
<circle cx="554.5" cy="267.8" r="2.5" fill="#00ffff" stroke="#000" stroke-width="1.35"/>
<circle cx="572.5" cy="269.7" r="2.5" fill="#00ffff" stroke="#000" stroke-width="1.35"/>
<circle cx="570.3" cy="277.2" r="2.5" fill="#00ffff" stroke="#000" stroke-width="1.35"/>
<circle cx="590.2" cy="283.8" r="2.5" fill="#00ffff" stroke="#000" stroke-width="1.35"/>
<circle cx="592.0" cy="284.7" r="2.5" fill="#00ffff" stroke="#000" stroke-width="1.35"/>
<circle cx="594.0" cy="304.5" r="2.5" fill="#00ffff" stroke="#000" stroke-width="1.35"/>
<circle cx="436.5" cy="116.0" r="2.5" fill="#ff0000" stroke="#000" stroke-width="1.35"/>
<circle cx="439.5" cy="117.0" r="2.5" fill="#ff0000" stroke="#000" stroke-width="1.35"/>
<circle cx="441.4" cy="123.4" r="2.5" fill="#ff0000" stroke="#000" stroke-width="1.35"/>
<circle cx="443.3" cy="133.6" r="2.5" fill="#ff0000" stroke="#000" stroke-width="1.35"/>
<circle cx="444.5" cy="139.8" r="2.5" fill="#ff0000" stroke="#000" stroke-width="1.35"/>
<circle cx="446.9" cy="148.4" r="2.5" fill="#ff0000" stroke="#000" stroke-width="1.35"/>
<circle cx="448.1" cy="150.0" r="2.5" fill="#ff0000" stroke="#000" stroke-width="1.35"/>
<circle cx="449.5" cy="156.8" r="2.5" fill="#ff0000" stroke="#000" stroke-width="1.35"/>
<circle cx="451.2" cy="162.5" r="2.5" fill="#ff0000" stroke="#000" stroke-width="1.35"/>
<circle cx="453.1" cy="169.8" r="2.5" fill="#ff0000" stroke="#000" stroke-width="1.35"/>
<circle cx="455.9" cy="176.9" r="2.5" fill="#ff0000" stroke="#000" stroke-width="1.35"/>
<circle cx="457.8" cy="186.2" r="2.5" fill="#ff0000" stroke="#000" stroke-width="1.35"/>
<circle cx="460.9" cy="192.5" r="2.5" fill="#ff0000" stroke="#000" stroke-width="1.35"/>
<circle cx="462.5" cy="198.0" r="2.5" fill="#ff0000" stroke="#000" stroke-width="1.35"/>
<circle cx="464.8" cy="200.3" r="2.5" fill="#ff0000" stroke="#000" stroke-width="1.35"/>
<circle cx="466.4" cy="205.8" r="2.5" fill="#ff0000" stroke="#000" stroke-width="1.35"/>
<circle cx="468.0" cy="209.7" r="2.5" fill="#ff0000" stroke="#000" stroke-width="1.35"/>
<circle cx="471.1" cy="213.1" r="2.5" fill="#ff0000" stroke="#000" stroke-width="1.35"/>
<circle cx="472.7" cy="216.2" r="2.5" fill="#ff0000" stroke="#000" stroke-width="1.35"/>
<circle cx="475.0" cy="217.0" r="2.5" fill="#ff0000" stroke="#000" stroke-width="1.35"/>
<circle cx="475.8" cy="224.8" r="2.5" fill="#ff0000" stroke="#000" stroke-width="1.35"/>
<circle cx="478.1" cy="231.9" r="2.5" fill="#ff0000" stroke="#000" stroke-width="1.35"/>
<circle cx="480.5" cy="233.4" r="2.5" fill="#ff0000" stroke="#000" stroke-width="1.35"/>
<circle cx="482.8" cy="236.6" r="2.5" fill="#ff0000" stroke="#000" stroke-width="1.35"/>
<circle cx="483.6" cy="242.8" r="2.5" fill="#ff0000" stroke="#000" stroke-width="1.35"/>
<circle cx="486.0" cy="239.4" r="2.5" fill="#ff0000" stroke="#000" stroke-width="1.35"/>
<circle cx="484.4" cy="242.5" r="2.5" fill="#ff0000" stroke="#000" stroke-width="1.35"/>
<circle cx="487.0" cy="249.5" r="2.5" fill="#ff0000" stroke="#000" stroke-width="1.35"/>
<circle cx="489.7" cy="251.6" r="2.5" fill="#ff0000" stroke="#000" stroke-width="1.35"/>
<circle cx="494.0" cy="259.7" r="2.5" fill="#ff0000" stroke="#000" stroke-width="1.35"/>
<circle cx="498.0" cy="258.9" r="2.5" fill="#ff0000" stroke="#000" stroke-width="1.35"/>
<circle cx="490.9" cy="264.7" r="2.5" fill="#ff0000" stroke="#000" stroke-width="1.35"/>
<circle cx="499.5" cy="270.2" r="2.5" fill="#ff0000" stroke="#000" stroke-width="1.35"/>
<circle cx="512.8" cy="243.3" r="2.5" fill="#ff0000" stroke="#000" stroke-width="1.35"/>
<circle cx="514.4" cy="249.5" r="2.5" fill="#ff0000" stroke="#000" stroke-width="1.35"/>
<circle cx="508.9" cy="255.8" r="2.5" fill="#ff0000" stroke="#000" stroke-width="1.35"/>
<circle cx="511.2" cy="261.0" r="2.5" fill="#ff0000" stroke="#000" stroke-width="1.35"/>
<circle cx="540.9" cy="261.6" r="2.5" fill="#ff0000" stroke="#000" stroke-width="1.35"/>
<circle cx="539.4" cy="272.5" r="2.5" fill="#ff0000" stroke="#000" stroke-width="1.35"/>
<circle cx="557.7" cy="272.5" r="2.5" fill="#ff0000" stroke="#000" stroke-width="1.35"/>
<circle cx="572.2" cy="278.0" r="2.5" fill="#ff0000" stroke="#000" stroke-width="1.35"/>
<circle cx="556.1" cy="283.4" r="2.5" fill="#ff0000" stroke="#000" stroke-width="1.35"/>
<circle cx="592.5" cy="301.9" r="2.5" fill="#ff0000" stroke="#000" stroke-width="1.35"/>
<circle cx="589.0" cy="308.4" r="2.5" fill="#ff0000" stroke="#000" stroke-width="1.35"/>
<path d="M441.10,27.30 L441.25,28.29 L441.40,29.28 L441.55,30.27 L441.69,31.26 L441.84,32.24 L441.99,33.23 L442.14,34.22 L442.29,35.21 L442.44,36.20 L442.58,37.19 L442.73,38.18 L442.88,39.17 L443.03,40.16 L443.18,41.14 L443.33,42.13 L443.48,43.12 L443.63,44.11 L443.78,45.10 L443.93,46.09 L444.08,47.08 L444.23,48.07 L444.38,49.05 L444.53,50.04 L444.68,51.03 L444.83,52.02 L444.98,53.01 L445.14,54.00 L445.29,54.98 L445.44,55.97 L445.60,56.96 L445.75,57.95 L445.91,58.94 L446.07,59.92 L446.23,60.91 L446.38,61.90 L446.54,62.89 L446.70,63.87 L446.86,64.86 L447.03,65.85 L447.19,66.83 L447.35,67.82 L447.51,68.81 L447.67,69.79 L447.83,70.78 L448.00,71.77 L448.16,72.75 L448.32,73.74 L448.48,74.73 L448.64,75.71 L448.81,76.70 L448.97,77.69 L449.13,78.68 L449.29,79.66 L449.45,80.65 L449.60,81.64 L449.76,82.63 L449.91,83.61 L450.06,84.60 L450.21,85.59 L450.35,86.58 L450.49,87.57 L450.62,88.56 L450.75,89.55 L450.87,90.55 L450.99,91.54 L451.11,92.53 L451.23,93.52 L451.35,94.52 L451.48,95.51 L451.61,96.50 L451.75,97.49 L451.89,98.48 L452.03,99.47 L452.19,100.45 L452.35,101.44 L452.51,102.43 L452.68,103.41 L452.86,104.40 L453.04,105.38 L453.23,106.36 L453.42,107.34 L453.61,108.32 L453.82,109.30 L454.02,110.28 L454.23,111.26 L454.45,112.24 L454.67,113.21 L454.89,114.19 L455.12,115.16 L455.35,116.13 L455.59,117.10 L455.83,118.07 L456.07,119.04 L456.32,120.01 L456.58,120.98 L456.83,121.95 L457.10,122.91 L457.36,123.87 L457.63,124.84 L457.90,125.80 L458.18,126.76 L458.46,127.72 L458.75,128.68 L459.04,129.64 L459.33,130.59 L459.62,131.55 L459.92,132.50 L460.22,133.46 L460.53,134.41 L460.83,135.36 L461.14,136.31 L461.46,137.26 L461.77,138.21 L462.09,139.16 L462.42,140.10 L462.74,141.05 L463.07,141.99 L463.40,142.94 L463.73,143.88 L464.07,144.82 L464.41,145.76 L464.75,146.70 L465.09,147.64 L465.44,148.58 L465.79,149.51 L466.14,150.45 L466.49,151.39 L466.85,152.32 L467.21,153.25 L467.57,154.19 L467.93,155.12 L468.29,156.05 L468.66,156.98 L469.03,157.91 L469.40,158.84 L469.77,159.77 L470.14,160.70 L470.52,161.62 L470.90,162.55 L471.28,163.47 L471.66,164.40 L472.04,165.32 L472.43,166.24 L472.81,167.17 L473.20,168.09 L473.59,169.01 L473.98,169.93 L474.37,170.85 L474.77,171.77 L475.16,172.69 L475.56,173.61 L475.96,174.52 L476.35,175.44 L476.76,176.36 L477.16,177.27 L477.56,178.19 L477.96,179.10 L478.37,180.02 L478.78,180.93 L479.18,181.84 L479.60,182.75 L480.01,183.67 L480.42,184.58 L480.84,185.48 L481.26,186.39 L481.67,187.30 L482.09,188.21 L482.50,189.12 L482.92,190.03 L483.32,190.94 L483.73,191.86 L484.12,192.78 L484.51,193.70 L484.90,194.62 L485.28,195.54 L485.65,196.47 L486.03,197.40 L486.39,198.33 L486.76,199.26 L487.12,200.19 L487.48,201.13 L487.83,202.06 L488.19,203.00 L488.54,203.93 L488.89,204.87 L489.24,205.80 L489.59,206.74 L489.94,207.68 L490.29,208.62 L490.63,209.56 L490.97,210.49 L491.32,211.43 L491.66,212.37 L492.00,213.31 L492.34,214.25 L492.68,215.20 L493.01,216.14 L493.35,217.08 L493.68,218.02 L494.00,218.97 L494.33,219.92 L494.65,220.86 L494.96,221.81 L495.27,222.76 L495.57,223.72 L495.87,224.67 L496.16,225.63 L496.44,226.59 L496.72,227.55 L496.99,228.51 L497.25,229.47 L497.51,230.44 L497.76,231.41 L498.01,232.37 L498.25,233.34 L498.49,234.32 L498.73,235.29 L498.97,236.26 L499.20,237.23 L499.44,238.20 L499.68,239.17 L499.92,240.14 L500.16,241.11 L500.40,242.08 L500.64,243.06 L500.88,244.03 L501.13,245.00 L501.37,245.97 L501.62,246.93 L501.86,247.90 L502.11,248.87 L502.37,249.84 L502.63,250.80 L502.90,251.76 L503.19,252.72 L503.48,253.67 L503.80,254.62 L504.13,255.56 L504.48,256.49 L504.85,257.42 L505.25,258.33 L505.66,259.24 L506.10,260.13 L506.56,261.01 L507.05,261.88 L507.55,262.74 L508.08,263.59 L508.63,264.42 L509.20,265.23 L509.80,266.02 L510.42,266.79 L511.08,267.53 L511.76,268.23 L512.48,268.90 L513.23,269.53 L514.01,270.11 L514.83,270.64 L515.68,271.12 L516.55,271.55 L517.45,271.93 L518.38,272.26 L519.32,272.54 L520.28,272.79 L521.24,273.00 L522.22,273.18 L523.20,273.34 L524.19,273.49 L525.18,273.63 L526.17,273.76 L527.16,273.90 L528.15,274.04 L529.13,274.20 L530.12,274.36 L531.10,274.55 L532.07,274.75 L533.04,274.97 L534.01,275.22 L534.97,275.49 L535.92,275.79 L536.86,276.11 L537.79,276.46 L538.71,276.83 L539.62,277.24 L540.51,277.67 L541.40,278.12 L542.27,278.60 L543.13,279.10 L543.98,279.63 L544.82,280.16 L545.65,280.72 L546.48,281.28 L547.29,281.86 L548.10,282.44 L548.91,283.03 L549.71,283.63 L550.51,284.23 L551.31,284.83 L552.10,285.44 L552.90,286.04 L553.69,286.65 L554.49,287.25 L555.29,287.86 L556.09,288.46 L556.89,289.05 L557.70,289.64 L558.51,290.23 L559.32,290.81 L560.15,291.37 L560.98,291.93 L561.82,292.46 L562.67,292.98 L563.53,293.48 L564.40,293.95 L565.29,294.39 L566.19,294.79 L567.11,295.16 L568.04,295.49 L568.98,295.77 L569.94,296.01 L570.90,296.20 L571.88,296.34 L572.85,296.43 L573.84,296.47 L574.82,296.46 L575.81,296.42 L576.80,296.33 L577.78,296.22 L578.77,296.07 L579.75,295.90 L580.73,295.71 L581.71,295.51 L582.68,295.29 L583.65,295.06 L584.62,294.82 L585.59,294.57 L586.56,294.32 L587.52,294.05 L588.48,293.77 L589.44,293.48 L590.39,293.18 L591.34,292.87 L592.28,292.55 L593.22,292.21 L594.16,291.86 L595.09,291.50 L596.02,291.12 L596.94,290.74 L597.85,290.34 L598.76,289.93 L599.67,289.51 L600.58,289.09 L601.48,288.66 L602.38,288.23 L603.29,287.80 L604.19,287.36 L605.09,286.93 L605.99,286.51 L606.90,286.08 L607.81,285.66 L608.71,285.25 L609.63,284.83 L610.54,284.42 L611.45,284.02 L612.37,283.61 L613.28,283.21 L614.19,282.80 L615.11,282.39 L616.02,281.98 L616.92,281.56 L617.82,281.13 L618.72,280.69 L619.61,280.23 L620.49,279.77 L621.37,279.29 L622.24,278.80 L623.10,278.30 L623.97,277.80 L624.83,277.30 L625.69,276.80 L626.56,276.31 L627.44,275.83 L628.32,275.36 L629.20,274.90 L630.10,274.45 L631.00,274.02 L631.90,273.60 L632.81,273.19 L633.73,272.78 L634.64,272.38 L635.56,271.99 L636.48,271.60 L637.41,271.22 L638.33,270.83 L639.26,270.45 L640.18,270.08 L641.11,269.70 L642.04,269.33 L642.97,268.97 L643.90,268.60 L644.83,268.24 L645.77,267.88 L646.70,267.53 L647.64,267.18 L648.58,266.83 L649.52,266.49 L650.46,266.16 L651.40,265.82 L652.34,265.49 L653.29,265.17 L654.24,264.85 L655.19,264.53 L656.14,264.22 L657.09,263.91 L658.04,263.61 L658.99,263.31 L659.95,263.02 L660.91,262.73 L661.86,262.44 L662.82,262.16 L663.78,261.88 L664.75,261.61 L665.71,261.34 L666.67,261.08 L667.64,260.82 L668.61,260.57 L669.58,260.32 L670.55,260.08 L671.52,259.85 L672.49,259.62 L673.47,259.39 L674.44,259.18 L675.42,258.97 L676.40,258.76 L677.38,258.56 L678.36,258.37 L679.34,258.18 L680.32,258.00 L681.31,257.83 L682.29,257.66 L683.28,257.50 L684.27,257.35 L685.26,257.20 L686.25,257.06 L687.24,256.92 L688.23,256.78 L689.22,256.66 L690.21,256.53 L691.21,256.41 L692.20,256.30 L693.19,256.19 L694.19,256.08 L695.18,255.98 L696.18,255.88 L697.17,255.79 L698.17,255.69 L699.16,255.61 L700.16,255.53 L701.16,255.45 L702.15,255.38 L703.15,255.31 L704.15,255.24 L705.15,255.18 L706.15,255.12 L707.14,255.07 L708.14,255.02 L709.14,254.97 L710.14,254.93 L711.14,254.88 L712.14,254.84 L713.14,254.80 L714.14,254.76 L715.14,254.72 L716.14,254.69 L717.13,254.65 L718.13,254.62 L719.13,254.58 L720.13,254.55 L721.13,254.51 L722.13,254.48 L723.13,254.44 L724.10,254.40" fill="none" stroke="#000" stroke-width="2.6"/>
<path d="M724.50,289.40 L723.50,289.42 L722.50,289.44 L721.50,289.46 L720.50,289.48 L719.50,289.50 L718.50,289.52 L717.50,289.54 L716.50,289.56 L715.50,289.58 L714.50,289.60 L713.50,289.62 L712.50,289.64 L711.50,289.66 L710.50,289.68 L709.50,289.71 L708.50,289.73 L707.50,289.75 L706.50,289.77 L705.50,289.80 L704.50,289.82 L703.50,289.85 L702.51,289.87 L701.51,289.90 L700.51,289.92 L699.51,289.95 L698.51,289.97 L697.51,290.00 L696.51,290.02 L695.51,290.05 L694.51,290.07 L693.51,290.09 L692.51,290.12 L691.51,290.14 L690.51,290.17 L689.51,290.19 L688.51,290.22 L687.51,290.25 L686.51,290.28 L685.51,290.31 L684.51,290.35 L683.51,290.38 L682.51,290.42 L681.51,290.45 L680.51,290.49 L679.51,290.53 L678.52,290.58 L677.52,290.62 L676.52,290.67 L675.52,290.71 L674.52,290.76 L673.52,290.82 L672.52,290.87 L671.52,290.93 L670.53,290.98 L669.53,291.04 L668.53,291.10 L667.53,291.17 L666.53,291.23 L665.54,291.30 L664.54,291.38 L663.54,291.45 L662.55,291.53 L661.55,291.61 L660.55,291.70 L659.56,291.79 L658.56,291.89 L657.57,291.99 L656.57,292.09 L655.58,292.19 L654.58,292.30 L653.59,292.41 L652.59,292.51 L651.60,292.61 L650.60,292.71 L649.61,292.81 L648.61,292.91 L647.62,293.00 L646.62,293.09 L645.63,293.18 L644.63,293.27 L643.63,293.36 L642.64,293.44 L641.64,293.54 L640.65,293.63 L639.65,293.73 L638.66,293.83 L637.66,293.94 L636.67,294.05 L635.68,294.17 L634.68,294.29 L633.69,294.43 L632.70,294.56 L631.71,294.70 L630.72,294.84 L629.73,294.98 L628.74,295.12 L627.75,295.26 L626.76,295.40 L625.77,295.53 L624.78,295.66 L623.79,295.79 L622.79,295.91 L621.80,296.03 L620.81,296.15 L619.82,296.27 L618.82,296.39 L617.83,296.51 L616.84,296.62 L615.84,296.74 L614.85,296.85 L613.86,296.97 L612.86,297.08 L611.87,297.19 L610.87,297.30 L609.88,297.41 L608.89,297.51 L607.89,297.62 L606.90,297.73 L605.90,297.84 L604.91,297.95 L603.92,298.06 L602.92,298.18 L601.93,298.31 L600.94,298.44 L599.95,298.57 L598.96,298.72 L597.97,298.86 L596.98,299.01 L595.99,299.16 L595.00,299.31 L594.01,299.45 L593.02,299.59 L592.03,299.72 L591.04,299.84 L590.05,299.95 L589.05,300.04 L588.06,300.13 L587.06,300.21 L586.06,300.28 L585.06,300.35 L584.06,300.40 L583.07,300.45 L582.07,300.49 L581.07,300.52 L580.07,300.55 L579.07,300.57 L578.07,300.59 L577.07,300.60 L576.07,300.60 L575.07,300.60 L574.07,300.59 L573.07,300.58 L572.07,300.55 L571.07,300.53 L570.07,300.49 L569.07,300.45 L568.07,300.40 L567.07,300.34 L566.08,300.28 L565.08,300.21 L564.08,300.14 L563.08,300.06 L562.09,299.98 L561.09,299.89 L560.10,299.79 L559.10,299.69 L558.11,299.58 L557.12,299.46 L556.12,299.33 L555.13,299.19 L554.15,299.04 L553.16,298.87 L552.18,298.69 L551.20,298.49 L550.22,298.27 L549.25,298.05 L548.27,297.82 L547.30,297.59 L546.33,297.35 L545.36,297.12 L544.38,296.91 L543.40,296.70 L542.42,296.51 L541.44,296.33 L540.45,296.16 L539.46,296.01 L538.47,295.87 L537.48,295.74 L536.49,295.62 L535.50,295.50 L534.50,295.39 L533.51,295.28 L532.52,295.18 L531.52,295.08 L530.52,294.99 L529.53,294.91 L528.53,294.84 L527.53,294.78 L526.53,294.73 L525.54,294.67 L524.54,294.62 L523.54,294.56 L522.54,294.49 L521.55,294.40 L520.55,294.29 L519.56,294.16 L518.58,294.01 L517.59,293.83 L516.61,293.63 L515.64,293.41 L514.67,293.17 L513.70,292.91 L512.74,292.63 L511.79,292.33 L510.85,292.00 L509.92,291.64 L509.00,291.25 L508.10,290.83 L507.21,290.37 L506.34,289.88 L505.50,289.35 L504.67,288.79 L503.86,288.21 L503.07,287.60 L502.29,286.97 L501.52,286.34 L500.75,285.70 L499.98,285.05 L499.22,284.41 L498.45,283.77 L497.68,283.13 L496.91,282.50 L496.14,281.85 L495.38,281.21 L494.62,280.56 L493.86,279.91 L493.10,279.26 L492.34,278.61 L491.57,277.97 L490.79,277.34 L490.01,276.72 L489.22,276.10 L488.42,275.50 L487.62,274.91 L486.80,274.34 L485.98,273.77 L485.15,273.21 L484.32,272.65 L483.48,272.11 L482.64,271.56 L481.80,271.02 L480.95,270.49 L480.11,269.95 L479.27,269.41 L478.42,268.87 L477.58,268.34 L476.73,267.81 L475.89,267.27 L475.04,266.75 L474.19,266.22 L473.33,265.70 L472.48,265.17 L471.63,264.64 L470.79,264.11 L469.95,263.57 L469.11,263.03 L468.27,262.48 L467.44,261.92 L466.61,261.37 L465.78,260.81 L464.95,260.26 L464.12,259.69 L463.30,259.12 L462.49,258.54 L461.69,257.94 L460.91,257.32 L460.15,256.67 L459.41,256.00 L458.70,255.30 L458.02,254.57 L457.37,253.82 L456.74,253.04 L456.14,252.24 L455.57,251.42 L455.01,250.60 L454.46,249.76 L453.93,248.91 L453.40,248.06 L452.88,247.21 L452.36,246.35 L451.85,245.50 L451.34,244.64 L450.84,243.77 L450.34,242.90 L449.86,242.03 L449.38,241.15 L448.90,240.27 L448.43,239.39 L447.96,238.51 L447.49,237.62 L447.02,236.74 L446.56,235.86 L446.08,234.97 L445.61,234.09 L445.14,233.21 L444.67,232.33 L444.20,231.44 L443.73,230.56 L443.26,229.68 L442.79,228.80 L442.31,227.92 L441.82,227.05 L441.32,226.18 L440.82,225.32 L440.29,224.47 L439.77,223.62 L439.23,222.78 L438.67,221.95 L438.12,221.13 L437.90,220.80" fill="none" stroke="#0000ff" stroke-width="3.6" stroke-dasharray="2.6 9.35" stroke-dashoffset="10.55" stroke-linecap="round"/><path d="M438.8,222.1L440.4,224.7" stroke="#0000ff" stroke-width="3.6" stroke-linecap="round"/>
<path d="M725.00,276.00 L724.00,276.00 L723.00,275.99 L722.00,275.99 L721.00,275.99 L720.00,275.99 L719.00,275.99 L718.00,275.99 L717.00,276.00 L716.00,276.00 L715.00,276.02 L714.00,276.03 L713.00,276.05 L712.00,276.06 L711.00,276.08 L710.00,276.10 L709.00,276.12 L708.00,276.14 L707.00,276.17 L706.00,276.19 L705.00,276.22 L704.00,276.24 L703.00,276.27 L702.00,276.30 L701.00,276.34 L700.00,276.37 L699.01,276.40 L698.01,276.44 L697.01,276.48 L696.01,276.52 L695.01,276.56 L694.01,276.60 L693.01,276.65 L692.01,276.70 L691.01,276.76 L690.01,276.81 L689.02,276.87 L688.02,276.93 L687.02,277.00 L686.02,277.07 L685.03,277.13 L684.03,277.21 L683.03,277.28 L682.03,277.36 L681.04,277.44 L680.04,277.53 L679.04,277.62 L678.05,277.71 L677.05,277.80 L676.06,277.90 L675.06,277.99 L674.07,278.10 L673.07,278.20 L672.08,278.31 L671.09,278.41 L670.09,278.53 L669.10,278.64 L668.10,278.75 L667.11,278.87 L666.12,279.00 L665.13,279.12 L664.14,279.25 L663.14,279.38 L662.15,279.52 L661.16,279.65 L660.17,279.79 L659.18,279.92 L658.19,280.06 L657.20,280.19 L656.21,280.32 L655.22,280.45 L654.22,280.58 L653.23,280.70 L652.24,280.83 L651.25,280.95 L650.26,281.08 L649.26,281.21 L648.27,281.34 L647.28,281.48 L646.29,281.62 L645.30,281.77 L644.32,281.93 L643.33,282.09 L642.35,282.26 L641.36,282.44 L640.38,282.63 L639.40,282.82 L638.42,283.01 L637.43,283.20 L636.45,283.40 L635.47,283.59 L634.49,283.78 L633.51,283.97 L632.53,284.15 L631.54,284.33 L630.56,284.51 L629.57,284.68 L628.59,284.86 L627.60,285.03 L626.62,285.20 L625.63,285.37 L624.65,285.54 L623.66,285.71 L622.68,285.89 L621.69,286.06 L620.71,286.23 L619.72,286.41 L618.74,286.59 L617.76,286.77 L616.77,286.95 L615.79,287.13 L614.81,287.31 L613.82,287.49 L612.84,287.68 L611.86,287.86 L610.87,288.04 L609.89,288.22 L608.90,288.40 L607.92,288.57 L606.94,288.75 L605.95,288.92 L604.97,289.09 L603.98,289.27 L603.00,289.44 L602.01,289.61 L601.03,289.79 L600.04,289.97 L599.06,290.15 L598.08,290.34 L597.10,290.54 L596.12,290.74 L595.14,290.96 L594.17,291.18 L593.19,291.40 L592.22,291.63 L591.25,291.86 L590.27,292.08 L589.29,292.30 L588.32,292.50 L587.33,292.69 L586.35,292.86 L585.36,293.02 L584.37,293.15 L583.38,293.27 L582.38,293.37 L581.39,293.45 L580.39,293.52 L579.39,293.58 L578.39,293.61 L577.40,293.64 L576.40,293.65 L575.40,293.64 L574.40,293.62 L573.40,293.58 L572.40,293.52 L571.40,293.45 L570.41,293.36 L569.41,293.25 L568.42,293.13 L567.43,293.00 L566.44,292.85 L565.45,292.70 L564.47,292.53 L563.48,292.35 L562.50,292.16 L561.52,291.97 L560.54,291.76 L559.57,291.54 L558.60,291.31 L557.63,291.07 L556.66,290.82 L555.69,290.56 L554.73,290.30 L553.76,290.03 L552.80,289.76 L551.84,289.48 L550.88,289.21 L549.92,288.92 L548.96,288.63 L548.01,288.34 L547.05,288.04 L546.10,287.73 L545.15,287.41 L544.20,287.10 L543.25,286.79 L542.30,286.48 L541.35,286.19 L540.39,285.91 L539.42,285.64 L538.46,285.40 L537.48,285.18 L536.50,284.98 L535.52,284.80 L534.53,284.65 L533.54,284.51 L532.55,284.38 L531.56,284.27 L530.56,284.15 L529.57,284.04 L528.58,283.92 L527.58,283.80 L526.59,283.67 L525.60,283.54 L524.61,283.41 L523.62,283.28 L522.62,283.16 L521.63,283.04 L520.64,282.91 L519.65,282.77 L518.67,282.60 L517.69,282.41 L516.72,282.17 L515.77,281.89 L514.83,281.56 L513.91,281.18 L513.01,280.75 L512.14,280.27 L511.28,279.76 L510.45,279.21 L509.64,278.63 L508.84,278.03 L508.06,277.41 L507.29,276.77 L506.53,276.12 L505.77,275.46 L505.03,274.80 L504.30,274.12 L503.58,273.42 L502.87,272.72 L502.17,272.00 L501.49,271.27 L500.82,270.53 L500.16,269.78 L499.51,269.02 L498.86,268.26 L498.23,267.49 L497.60,266.71 L496.98,265.93 L496.37,265.13 L495.77,264.33 L495.19,263.52 L494.61,262.70 L494.04,261.88 L493.47,261.06 L492.90,260.24 L492.32,259.42 L491.73,258.62 L491.13,257.82 L490.51,257.03 L489.88,256.26 L489.23,255.50 L488.57,254.75 L487.90,254.01 L487.22,253.27 L486.53,252.54 L485.84,251.82 L485.15,251.10 L484.45,250.39 L483.75,249.67 L483.05,248.96 L482.34,248.25 L481.64,247.55 L480.93,246.84 L480.21,246.14 L479.50,245.44 L478.78,244.75 L478.05,244.06 L477.33,243.37 L476.60,242.68 L475.88,241.99 L475.15,241.30 L474.44,240.61 L473.72,239.91 L473.02,239.20 L472.32,238.48 L471.62,237.76 L470.94,237.04 L470.25,236.31 L469.58,235.57 L468.90,234.83 L468.23,234.09 L467.56,233.35 L466.89,232.61 L466.22,231.87 L465.54,231.13 L464.86,230.40 L464.18,229.67 L463.48,228.95 L462.78,228.23 L462.08,227.52 L461.38,226.81 L460.68,226.09 L460.00,225.37 L459.33,224.62 L458.68,223.86 L458.06,223.08 L457.48,222.27 L456.93,221.44 L456.41,220.59 L455.92,219.72 L455.47,218.83 L455.04,217.93 L454.63,217.02 L454.24,216.10 L453.86,215.17 L453.49,214.24 L453.13,213.31 L452.77,212.38 L452.41,211.45 L452.05,210.51 L451.69,209.58 L451.33,208.65 L450.98,207.71 L450.64,206.77 L450.30,205.83 L449.96,204.89 L449.63,203.94 L449.30,203.00 L448.97,202.06 L448.64,201.11 L448.31,200.17 L447.97,199.23 L447.64,198.29 L447.29,197.35 L446.95,196.41 L446.61,195.47 L446.26,194.53 L445.91,193.59 L445.57,192.65 L445.23,191.71 L444.89,190.77 L444.56,189.83 L444.23,188.88 L443.91,187.94 L443.61,186.98 L443.31,186.03 L443.02,185.07 L442.75,184.11 L442.47,183.15 L442.20,182.19 L441.93,181.22 L441.65,180.27 L441.35,179.31 L441.04,178.36 L440.69,177.43 L440.31,176.51 L439.89,175.60 L439.44,174.71 L438.96,173.84 L438.47,172.98 L437.94,172.13 L437.41,171.30 L437.10,170.80" fill="none" stroke="#ff00ff" stroke-width="3.6" stroke-dasharray="2.6 9.35" stroke-dashoffset="4.25" stroke-linecap="round"/><path d="M721.4,276.0H724.0" stroke="#ff00ff" stroke-width="3.6" stroke-linecap="round"/><path d="M437.9,172.2L439.8,175.6" stroke="#ff00ff" stroke-width="3.6" stroke-linecap="round"/>
<path d="M724.80,265.20 L723.80,265.21 L722.80,265.23 L721.80,265.26 L720.80,265.29 L719.80,265.32 L718.80,265.35 L717.80,265.38 L716.80,265.41 L715.80,265.45 L714.80,265.48 L713.80,265.52 L712.81,265.55 L711.81,265.59 L710.81,265.63 L709.81,265.67 L708.81,265.71 L707.81,265.76 L706.81,265.81 L705.81,265.86 L704.81,265.92 L703.82,265.97 L702.82,266.03 L701.82,266.10 L700.82,266.16 L699.82,266.23 L698.83,266.30 L697.83,266.37 L696.83,266.45 L695.83,266.52 L694.84,266.60 L693.84,266.68 L692.84,266.77 L691.85,266.85 L690.85,266.94 L689.86,267.04 L688.86,267.13 L687.87,267.23 L686.87,267.32 L685.88,267.42 L684.88,267.52 L683.88,267.61 L682.89,267.71 L681.89,267.80 L680.90,267.90 L679.90,267.99 L678.91,268.09 L677.91,268.18 L676.92,268.28 L675.92,268.38 L674.93,268.48 L673.93,268.58 L672.94,268.69 L671.94,268.80 L670.95,268.91 L669.96,269.03 L668.96,269.15 L667.97,269.27 L666.98,269.39 L665.99,269.52 L665.00,269.65 L664.01,269.79 L663.02,269.93 L662.03,270.07 L661.04,270.22 L660.05,270.37 L659.06,270.53 L658.08,270.70 L657.09,270.87 L656.10,271.04 L655.12,271.22 L654.14,271.40 L653.16,271.59 L652.17,271.78 L651.19,271.97 L650.21,272.17 L649.23,272.38 L648.26,272.58 L647.28,272.79 L646.30,273.00 L645.32,273.22 L644.35,273.44 L643.38,273.67 L642.40,273.90 L641.43,274.13 L640.46,274.36 L639.49,274.60 L638.52,274.84 L637.55,275.09 L636.58,275.33 L635.61,275.58 L634.64,275.83 L633.67,276.08 L632.70,276.33 L631.74,276.59 L630.77,276.85 L629.80,277.11 L628.84,277.37 L627.87,277.63 L626.91,277.89 L625.94,278.16 L624.98,278.42 L624.01,278.68 L623.05,278.94 L622.09,279.21 L621.12,279.47 L620.16,279.74 L619.19,280.01 L618.23,280.27 L617.27,280.54 L616.30,280.80 L615.33,281.06 L614.37,281.31 L613.40,281.55 L612.42,281.78 L611.45,282.00 L610.47,282.22 L609.49,282.42 L608.51,282.61 L607.53,282.80 L606.55,282.99 L605.56,283.17 L604.58,283.35 L603.60,283.54 L602.62,283.73 L601.64,283.93 L600.66,284.14 L599.69,284.36 L598.71,284.60 L597.74,284.84 L596.78,285.09 L595.81,285.35 L594.84,285.61 L593.88,285.87 L592.91,286.13 L591.94,286.38 L590.97,286.62 L590.00,286.85 L589.03,287.06 L588.05,287.27 L587.06,287.46 L586.08,287.63 L585.09,287.80 L584.11,287.95 L583.12,288.09 L582.13,288.22 L581.13,288.33 L580.14,288.42 L579.14,288.48 L578.14,288.53 L577.14,288.56 L576.14,288.56 L575.14,288.54 L574.15,288.50 L573.15,288.44 L572.15,288.37 L571.16,288.27 L570.16,288.16 L569.17,288.04 L568.18,287.90 L567.19,287.76 L566.20,287.60 L565.22,287.43 L564.23,287.26 L563.25,287.07 L562.27,286.87 L561.30,286.66 L560.32,286.44 L559.35,286.20 L558.38,285.96 L557.41,285.71 L556.44,285.45 L555.48,285.19 L554.52,284.91 L553.56,284.62 L552.61,284.32 L551.66,284.01 L550.71,283.68 L549.77,283.35 L548.83,283.01 L547.89,282.66 L546.96,282.31 L546.02,281.96 L545.08,281.61 L544.14,281.27 L543.20,280.93 L542.26,280.60 L541.31,280.28 L540.36,279.96 L539.42,279.65 L538.46,279.34 L537.51,279.03 L536.56,278.73 L535.60,278.43 L534.65,278.14 L533.69,277.85 L532.73,277.57 L531.77,277.29 L530.81,277.03 L529.84,276.78 L528.87,276.54 L527.89,276.31 L526.92,276.10 L525.94,275.88 L524.96,275.67 L523.99,275.45 L523.02,275.21 L522.05,274.96 L521.10,274.68 L520.15,274.36 L519.21,274.02 L518.28,273.65 L517.37,273.25 L516.46,272.83 L515.57,272.38 L514.69,271.91 L513.81,271.43 L512.96,270.91 L512.12,270.37 L511.29,269.81 L510.49,269.22 L509.71,268.60 L508.95,267.95 L508.23,267.26 L507.54,266.55 L506.87,265.80 L506.24,265.03 L505.63,264.24 L505.04,263.44 L504.46,262.62 L503.89,261.80 L503.32,260.97 L502.76,260.15 L502.19,259.33 L501.61,258.51 L501.03,257.69 L500.46,256.88 L499.88,256.06 L499.31,255.24 L498.74,254.42 L498.18,253.59 L497.63,252.75 L497.09,251.91 L496.56,251.06 L496.05,250.21 L495.55,249.34 L495.08,248.46 L494.62,247.57 L494.18,246.68 L493.75,245.77 L493.32,244.87 L492.90,243.96 L492.48,243.05 L492.05,242.15 L491.61,241.26 L491.15,240.37 L490.67,239.50 L490.16,238.64 L489.63,237.79 L489.07,236.96 L488.49,236.15 L487.90,235.34 L487.29,234.55 L486.68,233.76 L486.06,232.97 L485.44,232.19 L484.83,231.40 L484.22,230.60 L483.62,229.80 L483.04,228.99 L482.47,228.17 L481.91,227.34 L481.37,226.50 L480.84,225.66 L480.30,224.81 L479.77,223.96 L479.23,223.12 L478.68,222.29 L478.11,221.47 L477.52,220.66 L476.90,219.88 L476.26,219.12 L475.58,218.38 L474.88,217.67 L474.16,216.98 L473.42,216.31 L472.68,215.64 L471.93,214.98 L471.19,214.30 L470.47,213.62 L469.76,212.91 L469.08,212.18 L468.43,211.43 L467.80,210.65 L467.20,209.86 L466.62,209.04 L466.06,208.22 L465.51,207.38 L464.98,206.53 L464.46,205.68 L463.96,204.81 L463.47,203.94 L463.00,203.06 L462.54,202.17 L462.09,201.28 L461.66,200.38 L461.24,199.47 L460.84,198.55 L460.46,197.63 L460.09,196.70 L459.74,195.77 L459.40,194.82 L459.08,193.88 L458.76,192.93 L458.46,191.98 L458.16,191.02 L457.86,190.07 L457.57,189.11 L457.28,188.15 L456.99,187.20 L456.70,186.24 L456.40,185.29 L456.10,184.33 L455.80,183.38 L455.50,182.43 L455.20,181.47 L454.89,180.52 L454.59,179.57 L454.29,178.61 L454.00,177.66 L453.70,176.70 L453.40,175.75 L453.11,174.79 L452.81,173.84 L452.52,172.88 L452.22,171.93 L451.92,170.97 L451.63,170.02 L451.33,169.06 L451.03,168.11 L450.73,167.15 L450.44,166.20 L450.14,165.24 L449.84,164.29 L449.54,163.33 L449.24,162.38 L448.95,161.42 L448.65,160.47 L448.35,159.52 L448.05,158.56 L447.75,157.61 L447.45,156.65 L447.16,155.70 L446.86,154.74 L446.56,153.79 L446.26,152.83 L445.96,151.88 L445.67,150.92 L445.37,149.97 L445.07,149.01 L444.77,148.06 L444.48,147.10 L444.18,146.15 L443.89,145.19 L443.59,144.24 L443.29,143.28 L442.99,142.33 L442.70,141.38 L442.40,140.42 L442.10,139.47 L441.80,138.51 L441.50,137.56 L441.19,136.61 L440.88,135.66 L440.58,134.70 L440.27,133.75 L439.95,132.80 L439.64,131.85 L439.32,130.91 L439.01,129.96 L438.69,129.01 L438.37,128.06 L438.05,127.12 L437.73,126.17 L437.41,125.23 L437.10,124.29 L437.00,124.00" fill="none" stroke="#006636" stroke-width="3.6" stroke-dasharray="2.6 9.35" stroke-dashoffset="7.30" stroke-linecap="round"/><path d="M721.2,265.2H723.8" stroke="#006636" stroke-width="3.6" stroke-linecap="round"/><path d="M437.7,125.9L439.5,129.9" stroke="#006636" stroke-width="3.6" stroke-linecap="round"/>
</svg>
</body></html>
